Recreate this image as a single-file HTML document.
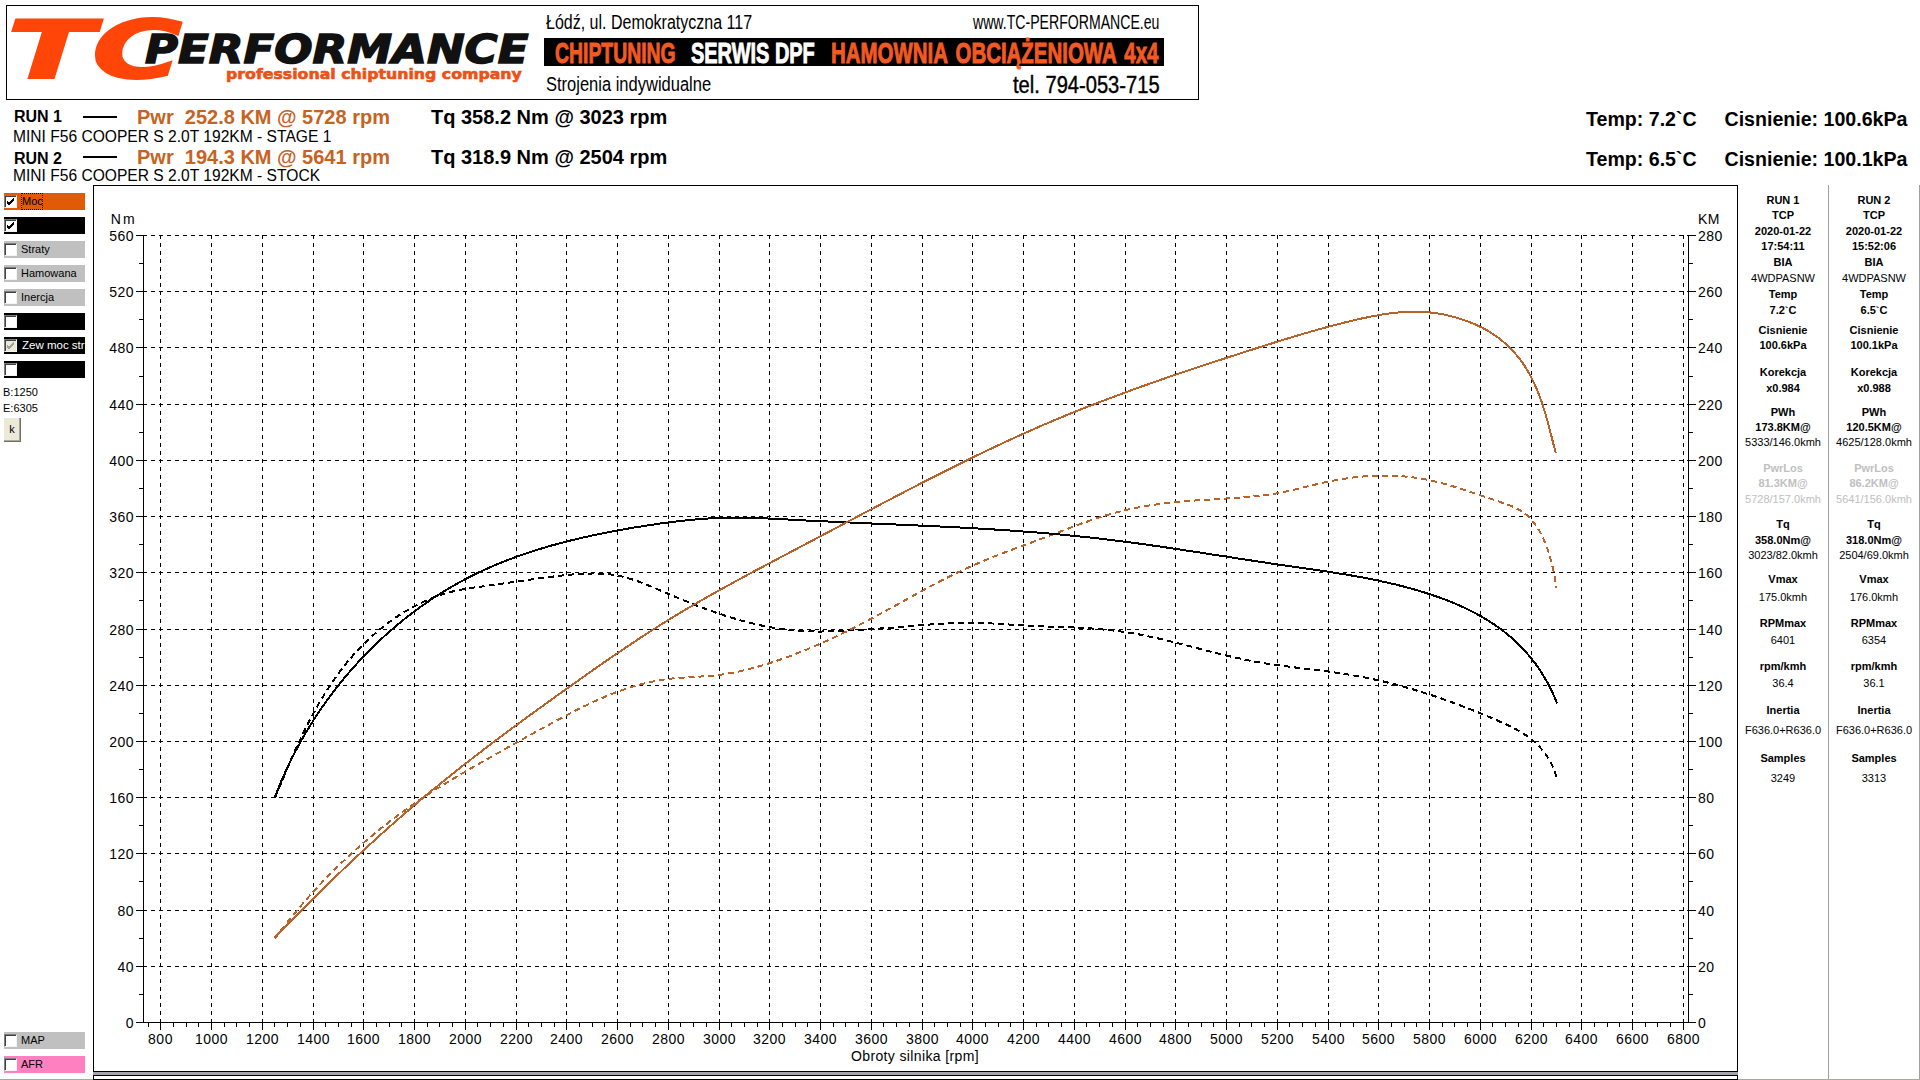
<!DOCTYPE html>
<html><head><meta charset="utf-8"><title>TC Performance - hamownia</title>
<style>
*{box-sizing:border-box}
html,body{margin:0;padding:0}
body{width:1920px;height:1080px;position:relative;overflow:hidden;background:#fff;font-family:"Liberation Sans",Arial,sans-serif;color:#000}
.abs{position:absolute;white-space:nowrap}
.bar{position:absolute;left:4px;width:81px;height:17px}
.cb{position:absolute;left:4px;width:13px;height:13px;border-top:1px solid #808080;border-left:1px solid #808080;border-bottom:1px solid #f4f3ee;border-right:1px solid #f4f3ee;box-shadow:inset 1px 1px 0 #404040}
.lbl{position:absolute;left:21px;height:13px;line-height:13px;font-size:11px;white-space:nowrap}
.rp{position:absolute;width:90px;text-align:center;font-size:11px;line-height:13px;white-space:nowrap}
.rp.b{font-weight:bold}
.rp.bg{font-weight:bold;color:#c0c0c0}
.rp.ng{color:#c0c0c0}
.hdr{position:absolute;white-space:nowrap;transform-origin:0 0}
</style></head><body>
<!-- header / logo -->
<div class="abs" style="left:6px;top:5px;width:1193px;height:95px;border:1px solid #000"></div>
<div class="hdr" style="left:7px;top:11px;font-family:'DejaVu Sans',sans-serif;font-size:80px;line-height:80px;font-weight:bold;font-style:oblique;color:#ff4608;transform:scaleX(1.586);-webkit-text-stroke:2px #ff4608">T</div>
<div class="hdr" style="left:92px;top:11px;font-family:'DejaVu Sans',sans-serif;font-size:80px;line-height:80px;font-weight:bold;font-style:oblique;color:#ff4608;transform:scaleX(1.536);-webkit-text-stroke:2px #ff4608">C</div>
<div class="hdr" style="left:145px;top:30px;font-family:'DejaVu Sans',sans-serif;font-size:38.5px;line-height:40px;font-weight:bold;font-style:oblique;color:#111;transform:scaleX(1.17);-webkit-text-stroke:1.5px #111">PERFORMANCE</div>
<div class="hdr" style="left:226px;top:66px;font-family:'DejaVu Sans',sans-serif;font-size:14px;line-height:16px;font-weight:bold;color:#f05014;transform:scaleX(1.126);-webkit-text-stroke:0.6px #f05014">professional chiptuning company</div>
<div class="hdr" style="left:546px;top:11px;font-size:20px;line-height:22px;transform:scaleX(0.80)">Łódź, ul. Demokratyczna 117</div>
<div class="hdr" style="left:973px;top:11px;font-size:20px;line-height:22px;transform:scaleX(0.705)">www.TC-PERFORMANCE.eu</div>
<div class="abs" style="left:544px;top:38px;width:620px;height:28px;background:#000"></div>
<div class="hdr" style="left:555px;top:37px;font-size:30px;line-height:32px;font-weight:bold;color:#f25a22;transform:scaleX(0.646);-webkit-text-stroke:1px #f25a22">CHIPTUNING</div>
<div class="hdr" style="left:691px;top:37px;font-size:30px;line-height:32px;font-weight:bold;color:#fff;transform:scaleX(0.665);-webkit-text-stroke:1px #fff">SERWIS DPF</div>
<div class="hdr" style="left:831px;top:37px;font-size:30px;line-height:32px;font-weight:bold;color:#f25a22;transform:scaleX(0.681);word-spacing:4px;-webkit-text-stroke:1px #f25a22">HAMOWNIA OBCIĄŻENIOWA 4x4</div>
<div class="hdr" style="left:546px;top:72.5px;font-size:20px;line-height:22px;transform:scaleX(0.825)">Strojenia indywidualne</div>
<div class="hdr" style="left:1013px;top:73px;font-size:23px;line-height:24px;transform:scaleX(0.875);font-weight:normal;-webkit-text-stroke:0.4px #000">tel. 794-053-715</div>

<!-- run info -->
<div class="abs" style="left:14px;top:108px;font-size:16px;line-height:18px;font-weight:bold">RUN 1</div>
<div class="abs" style="left:83px;top:116px;width:34px;height:2px;background:#000"></div>
<div class="abs" style="left:137px;top:106px;font-size:20px;line-height:22px;font-weight:bold;color:#c8621f">Pwr&nbsp; 252.8 KM @ 5728 rpm</div>
<div class="abs" style="left:431px;top:106px;font-size:20px;line-height:22px;font-weight:bold">Tq 358.2 Nm @ 3023 rpm</div>
<div class="abs" style="left:13px;top:128px;font-size:15.6px;line-height:18px">MINI F56 COOPER S 2.0T 192KM - STAGE 1</div>
<div class="abs" style="left:14px;top:150px;font-size:16px;line-height:18px;font-weight:bold">RUN 2</div>
<div class="abs" style="left:83px;top:156px;width:34px;height:2px;background:#000"></div>
<div class="abs" style="left:137px;top:145.7px;font-size:20px;line-height:22px;font-weight:bold;color:#c8621f">Pwr&nbsp; 194.3 KM @ 5641 rpm</div>
<div class="abs" style="left:431px;top:145.7px;font-size:20px;line-height:22px;font-weight:bold">Tq 318.9 Nm @ 2504 rpm</div>
<div class="abs" style="left:13px;top:167px;font-size:15.6px;line-height:18px">MINI F56 COOPER S 2.0T 192KM - STOCK</div>
<div class="abs" style="left:1586px;top:107.5px;font-size:19.6px;line-height:22px;font-weight:bold">Temp: 7.2`C</div>
<div class="abs" style="left:1724.5px;top:107.5px;font-size:19.6px;line-height:22px;font-weight:bold">Cisnienie: 100.6kPa</div>
<div class="abs" style="left:1586px;top:147.6px;font-size:19.6px;line-height:22px;font-weight:bold">Temp: 6.5`C</div>
<div class="abs" style="left:1724.5px;top:147.6px;font-size:19.6px;line-height:22px;font-weight:bold">Cisnienie: 100.1kPa</div>

<svg width="1920" height="1080" style="position:absolute;left:0;top:0" font-family="Liberation Sans, Arial, sans-serif">
<rect x="93.5" y="185.5" width="1644" height="886" fill="#fff" stroke="#000" stroke-width="1"/>
<g stroke="#000" stroke-width="1" shape-rendering="crispEdges" fill="none">
<path d="M143 966.5H1688" stroke-dasharray="4 4"/>
<path d="M143 910.5H1688" stroke-dasharray="4 4"/>
<path d="M143 853.5H1688" stroke-dasharray="4 4"/>
<path d="M143 797.5H1688" stroke-dasharray="4 4"/>
<path d="M143 741.5H1688" stroke-dasharray="4 4"/>
<path d="M143 685.5H1688" stroke-dasharray="4 4"/>
<path d="M143 629.5H1688" stroke-dasharray="4 4"/>
<path d="M143 572.5H1688" stroke-dasharray="4 4"/>
<path d="M143 516.5H1688" stroke-dasharray="4 4"/>
<path d="M143 460.5H1688" stroke-dasharray="4 4"/>
<path d="M143 404.5H1688" stroke-dasharray="4 4"/>
<path d="M143 347.5H1688" stroke-dasharray="4 4"/>
<path d="M143 291.5H1688" stroke-dasharray="4 4"/>
<path d="M143 235.5H1688" stroke-dasharray="4 4"/>
<path d="M160.5 235V1022" stroke-dasharray="4 4"/>
<path d="M211.5 235V1022" stroke-dasharray="4 4"/>
<path d="M262.5 235V1022" stroke-dasharray="4 4"/>
<path d="M313.5 235V1022" stroke-dasharray="4 4"/>
<path d="M363.5 235V1022" stroke-dasharray="4 4"/>
<path d="M414.5 235V1022" stroke-dasharray="4 4"/>
<path d="M465.5 235V1022" stroke-dasharray="4 4"/>
<path d="M516.5 235V1022" stroke-dasharray="4 4"/>
<path d="M566.5 235V1022" stroke-dasharray="4 4"/>
<path d="M617.5 235V1022" stroke-dasharray="4 4"/>
<path d="M668.5 235V1022" stroke-dasharray="4 4"/>
<path d="M719.5 235V1022" stroke-dasharray="4 4"/>
<path d="M769.5 235V1022" stroke-dasharray="4 4"/>
<path d="M820.5 235V1022" stroke-dasharray="4 4"/>
<path d="M871.5 235V1022" stroke-dasharray="4 4"/>
<path d="M922.5 235V1022" stroke-dasharray="4 4"/>
<path d="M972.5 235V1022" stroke-dasharray="4 4"/>
<path d="M1023.5 235V1022" stroke-dasharray="4 4"/>
<path d="M1074.5 235V1022" stroke-dasharray="4 4"/>
<path d="M1125.5 235V1022" stroke-dasharray="4 4"/>
<path d="M1175.5 235V1022" stroke-dasharray="4 4"/>
<path d="M1226.5 235V1022" stroke-dasharray="4 4"/>
<path d="M1277.5 235V1022" stroke-dasharray="4 4"/>
<path d="M1328.5 235V1022" stroke-dasharray="4 4"/>
<path d="M1378.5 235V1022" stroke-dasharray="4 4"/>
<path d="M1429.5 235V1022" stroke-dasharray="4 4"/>
<path d="M1480.5 235V1022" stroke-dasharray="4 4"/>
<path d="M1531.5 235V1022" stroke-dasharray="4 4"/>
<path d="M1581.5 235V1022" stroke-dasharray="4 4"/>
<path d="M1632.5 235V1022" stroke-dasharray="4 4"/>
<path d="M1683.5 235V1022" stroke-dasharray="4 4"/>
<path d="M143.5 235V1023"/>
<path d="M1688.5 235V1023"/>
<path d="M136 1022.5H1696"/>
<path d="M136 1022.5H143"/>
<path d="M1689 1022.5H1696"/>
<path d="M139 994.5H143"/>
<path d="M1689 994.5H1693"/>
<path d="M136 966.5H143"/>
<path d="M1689 966.5H1696"/>
<path d="M139 938.5H143"/>
<path d="M1689 938.5H1693"/>
<path d="M136 910.5H143"/>
<path d="M1689 910.5H1696"/>
<path d="M139 881.5H143"/>
<path d="M1689 881.5H1693"/>
<path d="M136 853.5H143"/>
<path d="M1689 853.5H1696"/>
<path d="M139 825.5H143"/>
<path d="M1689 825.5H1693"/>
<path d="M136 797.5H143"/>
<path d="M1689 797.5H1696"/>
<path d="M139 769.5H143"/>
<path d="M1689 769.5H1693"/>
<path d="M136 741.5H143"/>
<path d="M1689 741.5H1696"/>
<path d="M139 713.5H143"/>
<path d="M1689 713.5H1693"/>
<path d="M136 685.5H143"/>
<path d="M1689 685.5H1696"/>
<path d="M139 657.5H143"/>
<path d="M1689 657.5H1693"/>
<path d="M136 629.5H143"/>
<path d="M1689 629.5H1696"/>
<path d="M139 600.5H143"/>
<path d="M1689 600.5H1693"/>
<path d="M136 572.5H143"/>
<path d="M1689 572.5H1696"/>
<path d="M139 544.5H143"/>
<path d="M1689 544.5H1693"/>
<path d="M136 516.5H143"/>
<path d="M1689 516.5H1696"/>
<path d="M139 488.5H143"/>
<path d="M1689 488.5H1693"/>
<path d="M136 460.5H143"/>
<path d="M1689 460.5H1696"/>
<path d="M139 432.5H143"/>
<path d="M1689 432.5H1693"/>
<path d="M136 404.5H143"/>
<path d="M1689 404.5H1696"/>
<path d="M139 376.5H143"/>
<path d="M1689 376.5H1693"/>
<path d="M136 347.5H143"/>
<path d="M1689 347.5H1696"/>
<path d="M139 319.5H143"/>
<path d="M1689 319.5H1693"/>
<path d="M136 291.5H143"/>
<path d="M1689 291.5H1696"/>
<path d="M139 263.5H143"/>
<path d="M1689 263.5H1693"/>
<path d="M136 235.5H143"/>
<path d="M1689 235.5H1696"/>
<path d="M148.5 1023V1027"/>
<path d="M160.5 1023V1030"/>
<path d="M173.5 1023V1027"/>
<path d="M186.5 1023V1027"/>
<path d="M198.5 1023V1027"/>
<path d="M211.5 1023V1030"/>
<path d="M224.5 1023V1027"/>
<path d="M236.5 1023V1027"/>
<path d="M249.5 1023V1027"/>
<path d="M262.5 1023V1030"/>
<path d="M274.5 1023V1027"/>
<path d="M287.5 1023V1027"/>
<path d="M300.5 1023V1027"/>
<path d="M313.5 1023V1030"/>
<path d="M325.5 1023V1027"/>
<path d="M338.5 1023V1027"/>
<path d="M351.5 1023V1027"/>
<path d="M363.5 1023V1030"/>
<path d="M376.5 1023V1027"/>
<path d="M389.5 1023V1027"/>
<path d="M401.5 1023V1027"/>
<path d="M414.5 1023V1030"/>
<path d="M427.5 1023V1027"/>
<path d="M439.5 1023V1027"/>
<path d="M452.5 1023V1027"/>
<path d="M465.5 1023V1030"/>
<path d="M477.5 1023V1027"/>
<path d="M490.5 1023V1027"/>
<path d="M503.5 1023V1027"/>
<path d="M516.5 1023V1030"/>
<path d="M528.5 1023V1027"/>
<path d="M541.5 1023V1027"/>
<path d="M554.5 1023V1027"/>
<path d="M566.5 1023V1030"/>
<path d="M579.5 1023V1027"/>
<path d="M592.5 1023V1027"/>
<path d="M604.5 1023V1027"/>
<path d="M617.5 1023V1030"/>
<path d="M630.5 1023V1027"/>
<path d="M642.5 1023V1027"/>
<path d="M655.5 1023V1027"/>
<path d="M668.5 1023V1030"/>
<path d="M680.5 1023V1027"/>
<path d="M693.5 1023V1027"/>
<path d="M706.5 1023V1027"/>
<path d="M719.5 1023V1030"/>
<path d="M731.5 1023V1027"/>
<path d="M744.5 1023V1027"/>
<path d="M757.5 1023V1027"/>
<path d="M769.5 1023V1030"/>
<path d="M782.5 1023V1027"/>
<path d="M795.5 1023V1027"/>
<path d="M807.5 1023V1027"/>
<path d="M820.5 1023V1030"/>
<path d="M833.5 1023V1027"/>
<path d="M845.5 1023V1027"/>
<path d="M858.5 1023V1027"/>
<path d="M871.5 1023V1030"/>
<path d="M883.5 1023V1027"/>
<path d="M896.5 1023V1027"/>
<path d="M909.5 1023V1027"/>
<path d="M922.5 1023V1030"/>
<path d="M934.5 1023V1027"/>
<path d="M947.5 1023V1027"/>
<path d="M960.5 1023V1027"/>
<path d="M972.5 1023V1030"/>
<path d="M985.5 1023V1027"/>
<path d="M998.5 1023V1027"/>
<path d="M1010.5 1023V1027"/>
<path d="M1023.5 1023V1030"/>
<path d="M1036.5 1023V1027"/>
<path d="M1048.5 1023V1027"/>
<path d="M1061.5 1023V1027"/>
<path d="M1074.5 1023V1030"/>
<path d="M1086.5 1023V1027"/>
<path d="M1099.5 1023V1027"/>
<path d="M1112.5 1023V1027"/>
<path d="M1125.5 1023V1030"/>
<path d="M1137.5 1023V1027"/>
<path d="M1150.5 1023V1027"/>
<path d="M1163.5 1023V1027"/>
<path d="M1175.5 1023V1030"/>
<path d="M1188.5 1023V1027"/>
<path d="M1201.5 1023V1027"/>
<path d="M1213.5 1023V1027"/>
<path d="M1226.5 1023V1030"/>
<path d="M1239.5 1023V1027"/>
<path d="M1251.5 1023V1027"/>
<path d="M1264.5 1023V1027"/>
<path d="M1277.5 1023V1030"/>
<path d="M1289.5 1023V1027"/>
<path d="M1302.5 1023V1027"/>
<path d="M1315.5 1023V1027"/>
<path d="M1328.5 1023V1030"/>
<path d="M1340.5 1023V1027"/>
<path d="M1353.5 1023V1027"/>
<path d="M1366.5 1023V1027"/>
<path d="M1378.5 1023V1030"/>
<path d="M1391.5 1023V1027"/>
<path d="M1404.5 1023V1027"/>
<path d="M1416.5 1023V1027"/>
<path d="M1429.5 1023V1030"/>
<path d="M1442.5 1023V1027"/>
<path d="M1454.5 1023V1027"/>
<path d="M1467.5 1023V1027"/>
<path d="M1480.5 1023V1030"/>
<path d="M1492.5 1023V1027"/>
<path d="M1505.5 1023V1027"/>
<path d="M1518.5 1023V1027"/>
<path d="M1531.5 1023V1030"/>
<path d="M1543.5 1023V1027"/>
<path d="M1556.5 1023V1027"/>
<path d="M1569.5 1023V1027"/>
<path d="M1581.5 1023V1030"/>
<path d="M1594.5 1023V1027"/>
<path d="M1607.5 1023V1027"/>
<path d="M1619.5 1023V1027"/>
<path d="M1632.5 1023V1030"/>
<path d="M1645.5 1023V1027"/>
<path d="M1657.5 1023V1027"/>
<path d="M1670.5 1023V1027"/>
<path d="M1683.5 1023V1030"/>
</g>
<g font-size="14" fill="#000" letter-spacing="0.5">
<text x="134" y="1027.5" text-anchor="end">0</text>
<text x="1698" y="1027.5">0</text>
<text x="134" y="971.5" text-anchor="end">40</text>
<text x="1698" y="971.5">20</text>
<text x="134" y="915.5" text-anchor="end">80</text>
<text x="1698" y="915.5">40</text>
<text x="134" y="858.5" text-anchor="end">120</text>
<text x="1698" y="858.5">60</text>
<text x="134" y="802.5" text-anchor="end">160</text>
<text x="1698" y="802.5">80</text>
<text x="134" y="746.5" text-anchor="end">200</text>
<text x="1698" y="746.5">100</text>
<text x="134" y="690.5" text-anchor="end">240</text>
<text x="1698" y="690.5">120</text>
<text x="134" y="634.5" text-anchor="end">280</text>
<text x="1698" y="634.5">140</text>
<text x="134" y="577.5" text-anchor="end">320</text>
<text x="1698" y="577.5">160</text>
<text x="134" y="521.5" text-anchor="end">360</text>
<text x="1698" y="521.5">180</text>
<text x="134" y="465.5" text-anchor="end">400</text>
<text x="1698" y="465.5">200</text>
<text x="134" y="409.5" text-anchor="end">440</text>
<text x="1698" y="409.5">220</text>
<text x="134" y="352.5" text-anchor="end">480</text>
<text x="1698" y="352.5">240</text>
<text x="134" y="296.5" text-anchor="end">520</text>
<text x="1698" y="296.5">260</text>
<text x="134" y="240.5" text-anchor="end">560</text>
<text x="1698" y="240.5">280</text>
<text x="160.5" y="1043.5" text-anchor="middle">800</text>
<text x="211.5" y="1043.5" text-anchor="middle">1000</text>
<text x="262.5" y="1043.5" text-anchor="middle">1200</text>
<text x="313.5" y="1043.5" text-anchor="middle">1400</text>
<text x="363.5" y="1043.5" text-anchor="middle">1600</text>
<text x="414.5" y="1043.5" text-anchor="middle">1800</text>
<text x="465.5" y="1043.5" text-anchor="middle">2000</text>
<text x="516.5" y="1043.5" text-anchor="middle">2200</text>
<text x="566.5" y="1043.5" text-anchor="middle">2400</text>
<text x="617.5" y="1043.5" text-anchor="middle">2600</text>
<text x="668.5" y="1043.5" text-anchor="middle">2800</text>
<text x="719.5" y="1043.5" text-anchor="middle">3000</text>
<text x="769.5" y="1043.5" text-anchor="middle">3200</text>
<text x="820.5" y="1043.5" text-anchor="middle">3400</text>
<text x="871.5" y="1043.5" text-anchor="middle">3600</text>
<text x="922.5" y="1043.5" text-anchor="middle">3800</text>
<text x="972.5" y="1043.5" text-anchor="middle">4000</text>
<text x="1023.5" y="1043.5" text-anchor="middle">4200</text>
<text x="1074.5" y="1043.5" text-anchor="middle">4400</text>
<text x="1125.5" y="1043.5" text-anchor="middle">4600</text>
<text x="1175.5" y="1043.5" text-anchor="middle">4800</text>
<text x="1226.5" y="1043.5" text-anchor="middle">5000</text>
<text x="1277.5" y="1043.5" text-anchor="middle">5200</text>
<text x="1328.5" y="1043.5" text-anchor="middle">5400</text>
<text x="1378.5" y="1043.5" text-anchor="middle">5600</text>
<text x="1429.5" y="1043.5" text-anchor="middle">5800</text>
<text x="1480.5" y="1043.5" text-anchor="middle">6000</text>
<text x="1531.5" y="1043.5" text-anchor="middle">6200</text>
<text x="1581.5" y="1043.5" text-anchor="middle">6400</text>
<text x="1632.5" y="1043.5" text-anchor="middle">6600</text>
<text x="1683.5" y="1043.5" text-anchor="middle">6800</text>
<text x="137" y="224" text-anchor="end" letter-spacing="2.2">Nm</text>
<text x="1698" y="224">KM</text>
<text x="915" y="1061" text-anchor="middle" letter-spacing="0.37">Obroty silnika [rpm]</text>
</g>
<g fill="none" stroke-width="2" stroke-linejoin="round" shape-rendering="crispEdges">
<path d="M274.9 798.0 L275.7 796.2 L276.4 794.4 L277.2 792.5 L277.9 790.7 L278.7 788.8 L279.5 787.0 L280.2 785.2 L281.0 783.3 L281.8 781.5 L282.5 779.7 L283.3 777.8 L284.1 776.0 L284.8 774.1 L285.6 772.3 L286.4 770.5 L287.2 768.6 L288.0 766.8 L288.8 764.9 L289.6 763.1 L290.4 761.3 L291.2 759.4 L292.0 757.6 L292.8 755.8 L293.6 753.9 L294.4 752.1 L295.2 750.3 L296.0 748.5 L296.9 746.6 L297.7 744.8 L298.6 743.0 L299.4 741.2 L300.3 739.4 L301.1 737.6 L302.0 735.8 L302.8 734.0 L303.7 732.2 L304.6 730.4 L305.5 728.6 L306.4 726.8 L307.3 725.0 L308.2 723.2 L309.1 721.4 L310.0 719.7 L311.0 717.9 L311.9 716.1 L312.8 714.4 L313.8 712.6 L314.7 710.9 L315.7 709.1 L316.7 707.4 L317.7 705.7 L318.7 703.9 L319.7 702.2 L320.7 700.5 L321.7 698.8 L322.7 697.1 L323.8 695.4 L324.8 693.7 L325.9 692.0 L326.9 690.3 L328.0 688.6 L329.1 687.0 L330.2 685.3 L331.3 683.6 L332.4 682.0 L333.6 680.4 L334.7 678.7 L335.9 677.1 L337.0 675.5 L338.2 673.9 L339.4 672.3 L340.6 670.7 L341.8 669.1 L343.0 667.5 L344.2 665.9 L345.5 664.4 L346.7 662.8 L348.0 661.3 L349.3 659.7 L350.6 658.2 L351.9 656.7 L353.2 655.2 L354.6 653.7 L355.9 652.2 L357.3 650.7 L358.7 649.3 L360.0 647.8 L361.4 646.4 L362.9 644.9 L364.3 643.5 L365.7 642.1 L367.2 640.7 L368.6 639.3 L370.1 638.0 L371.6 636.6 L373.1 635.3 L374.6 633.9 L376.1 632.6 L377.6 631.3 L379.2 630.0 L380.7 628.7 L382.3 627.5 L383.9 626.2 L385.5 625.0 L387.1 623.7 L388.7 622.5 L390.3 621.4 L391.9 620.2 L393.5 619.0 L395.2 617.9 L396.8 616.8 L398.5 615.7 L400.2 614.6 L401.9 613.5 L403.6 612.4 L405.3 611.4 L407.0 610.4 L408.7 609.4 L410.4 608.4 L412.2 607.4 L413.9 606.5 L415.7 605.6 L417.5 604.7 L419.2 603.8 L421.0 602.9 L422.8 602.1 L424.6 601.2 L426.4 600.4 L428.2 599.7 L430.1 598.9 L431.9 598.2 L433.7 597.4 L435.6 596.7 L437.4 596.1 L439.3 595.4 L441.2 594.8 L443.1 594.2 L444.9 593.6 L446.8 593.0 L448.7 592.5 L450.6 592.0 L452.5 591.5 L454.5 591.0 L456.4 590.6 L458.3 590.2 L460.2 589.8 L462.2 589.4 L464.1 589.1 L466.1 588.7 L468.0 588.4 L470.0 588.1 L472.0 587.8 L473.9 587.5 L475.9 587.3 L477.9 587.0 L479.9 586.7 L481.9 586.5 L483.9 586.2 L485.9 585.9 L487.9 585.7 L489.9 585.4 L491.9 585.1 L493.9 584.8 L495.9 584.5 L497.9 584.3 L499.9 584.0 L501.9 583.7 L504.0 583.4 L506.0 583.1 L508.0 582.8 L510.0 582.5 L512.1 582.2 L514.1 581.9 L516.1 581.6 L518.1 581.3 L520.2 581.0 L522.2 580.7 L524.2 580.5 L526.3 580.2 L528.3 579.9 L530.3 579.6 L532.3 579.3 L534.4 579.0 L536.4 578.7 L538.4 578.5 L540.4 578.2 L542.5 577.9 L544.5 577.7 L546.5 577.4 L548.5 577.1 L550.5 576.9 L552.5 576.6 L554.5 576.4 L556.5 576.2 L558.5 575.9 L560.5 575.7 L562.5 575.5 L564.5 575.3 L566.5 575.1 L568.5 574.9 L570.5 574.7 L572.4 574.5 L574.4 574.3 L576.4 574.2 L578.3 574.0 L580.3 573.9 L582.3 573.8 L584.2 573.7 L586.2 573.6 L588.1 573.5 L590.0 573.5 L592.0 573.5 L593.9 573.4 L595.8 573.5 L597.8 573.5 L599.7 573.6 L601.6 573.7 L603.5 573.8 L605.5 573.9 L607.4 574.1 L609.3 574.3 L611.2 574.6 L613.1 574.8 L615.0 575.1 L616.9 575.5 L618.8 575.9 L620.7 576.3 L622.6 576.7 L624.5 577.2 L626.4 577.7 L628.3 578.3 L630.2 578.8 L632.1 579.4 L634.0 580.0 L635.9 580.7 L637.8 581.3 L639.6 582.0 L641.5 582.7 L643.4 583.4 L645.3 584.2 L647.2 584.9 L649.1 585.7 L650.9 586.5 L652.8 587.2 L654.7 588.0 L656.6 588.8 L658.5 589.6 L660.3 590.4 L662.2 591.3 L664.1 592.1 L666.0 592.9 L667.9 593.7 L669.7 594.5 L671.6 595.3 L673.5 596.1 L675.4 596.9 L677.3 597.7 L679.2 598.5 L681.0 599.2 L682.9 600.0 L684.8 600.8 L686.7 601.5 L688.6 602.3 L690.5 603.1 L692.3 603.8 L694.2 604.5 L696.1 605.3 L698.0 606.0 L699.9 606.7 L701.8 607.5 L703.7 608.2 L705.6 608.9 L707.5 609.6 L709.4 610.2 L711.3 610.9 L713.1 611.6 L715.0 612.3 L716.9 612.9 L718.8 613.6 L720.7 614.2 L722.6 614.8 L724.5 615.5 L726.4 616.1 L728.4 616.7 L730.3 617.3 L732.2 617.9 L734.1 618.4 L736.0 619.0 L737.9 619.6 L739.8 620.1 L741.7 620.6 L743.6 621.2 L745.6 621.7 L747.5 622.2 L749.4 622.7 L751.3 623.2 L753.2 623.6 L755.2 624.1 L757.1 624.5 L759.0 625.0 L760.9 625.4 L762.9 625.8 L764.8 626.2 L766.7 626.6 L768.7 626.9 L770.6 627.3 L772.6 627.6 L774.5 628.0 L776.4 628.3 L778.4 628.6 L780.3 628.9 L782.3 629.1 L784.2 629.4 L786.2 629.6 L788.2 629.9 L790.1 630.1 L792.1 630.3 L794.0 630.5 L796.0 630.6 L798.0 630.8 L799.9 630.9 L801.9 631.0 L803.9 631.1 L805.9 631.2 L807.8 631.3 L809.8 631.4 L811.8 631.4 L813.8 631.4 L815.8 631.5 L817.8 631.5 L819.8 631.5 L821.7 631.5 L823.7 631.4 L825.7 631.4 L827.7 631.4 L829.7 631.3 L831.7 631.2 L833.7 631.2 L835.7 631.1 L837.7 631.0 L839.7 630.9 L841.7 630.8 L843.8 630.7 L845.8 630.6 L847.8 630.5 L849.8 630.4 L851.8 630.3 L853.8 630.2 L855.8 630.1 L857.8 630.0 L859.8 629.8 L861.9 629.7 L863.9 629.6 L865.9 629.5 L867.9 629.3 L869.9 629.2 L871.9 629.1 L874.0 628.9 L876.0 628.8 L878.0 628.7 L880.0 628.5 L882.0 628.4 L884.0 628.2 L886.1 628.1 L888.1 627.9 L890.1 627.8 L892.1 627.6 L894.1 627.5 L896.1 627.3 L898.1 627.1 L900.2 627.0 L902.2 626.8 L904.2 626.6 L906.2 626.5 L908.2 626.3 L910.2 626.1 L912.2 626.0 L914.2 625.8 L916.3 625.6 L918.3 625.5 L920.3 625.3 L922.3 625.1 L924.3 625.0 L926.3 624.8 L928.3 624.7 L930.3 624.5 L932.3 624.4 L934.3 624.2 L936.3 624.1 L938.3 623.9 L940.3 623.8 L942.3 623.7 L944.3 623.6 L946.3 623.5 L948.3 623.4 L950.4 623.3 L952.4 623.2 L954.4 623.1 L956.4 623.0 L958.4 623.0 L960.4 622.9 L962.4 622.9 L964.4 622.8 L966.4 622.8 L968.4 622.8 L970.4 622.8 L972.3 622.8 L974.3 622.8 L976.3 622.9 L978.3 622.9 L980.3 623.0 L982.3 623.0 L984.3 623.1 L986.3 623.2 L988.3 623.3 L990.3 623.4 L992.3 623.5 L994.3 623.6 L996.3 623.7 L998.3 623.8 L1000.3 623.9 L1002.3 624.1 L1004.3 624.2 L1006.3 624.3 L1008.2 624.4 L1010.2 624.6 L1012.2 624.7 L1014.2 624.8 L1016.2 624.9 L1018.2 625.1 L1020.2 625.2 L1022.2 625.3 L1024.2 625.4 L1026.1 625.5 L1028.1 625.6 L1030.1 625.7 L1032.1 625.8 L1034.1 625.9 L1036.1 626.0 L1038.1 626.1 L1040.0 626.2 L1042.0 626.2 L1044.0 626.3 L1046.0 626.4 L1048.0 626.5 L1050.0 626.5 L1052.0 626.6 L1053.9 626.7 L1055.9 626.8 L1057.9 626.8 L1059.9 626.9 L1061.9 627.0 L1063.8 627.1 L1065.8 627.2 L1067.8 627.2 L1069.8 627.3 L1071.8 627.4 L1073.7 627.5 L1075.7 627.6 L1077.7 627.7 L1079.7 627.8 L1081.7 627.9 L1083.6 628.0 L1085.6 628.1 L1087.6 628.3 L1089.6 628.4 L1091.6 628.5 L1093.5 628.7 L1095.5 628.8 L1097.5 629.0 L1099.5 629.1 L1101.4 629.3 L1103.4 629.5 L1105.4 629.7 L1107.4 629.9 L1109.3 630.1 L1111.3 630.3 L1113.3 630.5 L1115.3 630.7 L1117.2 631.0 L1119.2 631.2 L1121.2 631.5 L1123.2 631.8 L1125.1 632.1 L1127.1 632.4 L1129.1 632.7 L1131.0 633.0 L1133.0 633.4 L1135.0 633.7 L1137.0 634.1 L1138.9 634.4 L1140.9 634.8 L1142.9 635.2 L1144.8 635.6 L1146.8 636.0 L1148.8 636.4 L1150.7 636.8 L1152.7 637.2 L1154.7 637.7 L1156.7 638.1 L1158.6 638.5 L1160.6 639.0 L1162.6 639.5 L1164.5 639.9 L1166.5 640.4 L1168.5 640.9 L1170.4 641.3 L1172.4 641.8 L1174.4 642.3 L1176.3 642.8 L1178.3 643.3 L1180.3 643.8 L1182.2 644.3 L1184.2 644.8 L1186.2 645.3 L1188.1 645.8 L1190.1 646.3 L1192.1 646.8 L1194.0 647.3 L1196.0 647.8 L1198.0 648.4 L1199.9 648.9 L1201.9 649.4 L1203.9 649.9 L1205.8 650.4 L1207.8 650.9 L1209.8 651.4 L1211.7 651.9 L1213.7 652.4 L1215.6 652.9 L1217.6 653.4 L1219.6 653.8 L1221.5 654.3 L1223.5 654.8 L1225.5 655.3 L1227.4 655.7 L1229.4 656.2 L1231.4 656.7 L1233.3 657.1 L1235.3 657.6 L1237.2 658.0 L1239.2 658.4 L1241.2 658.8 L1243.1 659.3 L1245.1 659.7 L1247.1 660.1 L1249.0 660.5 L1251.0 660.8 L1252.9 661.2 L1254.9 661.6 L1256.9 661.9 L1258.8 662.3 L1260.8 662.6 L1262.7 662.9 L1264.7 663.2 L1266.7 663.6 L1268.6 663.9 L1270.6 664.2 L1272.5 664.4 L1274.5 664.7 L1276.5 665.0 L1278.4 665.3 L1280.4 665.6 L1282.3 665.8 L1284.3 666.1 L1286.3 666.3 L1288.2 666.6 L1290.2 666.8 L1292.1 667.1 L1294.1 667.3 L1296.1 667.6 L1298.0 667.8 L1300.0 668.0 L1301.9 668.3 L1303.9 668.5 L1305.9 668.8 L1307.8 669.0 L1309.8 669.2 L1311.7 669.5 L1313.7 669.7 L1315.7 669.9 L1317.6 670.2 L1319.6 670.4 L1321.5 670.7 L1323.5 670.9 L1325.5 671.2 L1327.4 671.4 L1329.4 671.7 L1331.3 672.0 L1333.3 672.2 L1335.3 672.5 L1337.2 672.8 L1339.2 673.1 L1341.1 673.3 L1343.1 673.6 L1345.1 673.9 L1347.0 674.3 L1349.0 674.6 L1350.9 674.9 L1352.9 675.2 L1354.8 675.6 L1356.8 675.9 L1358.8 676.3 L1360.7 676.7 L1362.7 677.0 L1364.6 677.4 L1366.6 677.8 L1368.6 678.2 L1370.5 678.6 L1372.5 679.0 L1374.4 679.5 L1376.4 679.9 L1378.3 680.3 L1380.3 680.8 L1382.2 681.2 L1384.2 681.7 L1386.2 682.2 L1388.1 682.7 L1390.1 683.1 L1392.0 683.6 L1394.0 684.1 L1395.9 684.6 L1397.8 685.2 L1399.8 685.7 L1401.7 686.2 L1403.7 686.7 L1405.6 687.3 L1407.6 687.8 L1409.5 688.4 L1411.4 689.0 L1413.4 689.5 L1415.3 690.1 L1417.2 690.7 L1419.2 691.3 L1421.1 691.9 L1423.0 692.5 L1425.0 693.1 L1426.9 693.7 L1428.8 694.3 L1430.7 694.9 L1432.6 695.6 L1434.6 696.2 L1436.5 696.8 L1438.4 697.5 L1440.3 698.1 L1442.2 698.8 L1444.1 699.5 L1446.0 700.1 L1447.9 700.8 L1449.8 701.5 L1451.7 702.2 L1453.6 702.9 L1455.5 703.6 L1457.4 704.3 L1459.3 705.0 L1461.1 705.7 L1463.0 706.4 L1464.9 707.1 L1466.8 707.8 L1468.6 708.6 L1470.5 709.3 L1472.4 710.0 L1474.2 710.8 L1476.1 711.5 L1478.0 712.3 L1479.8 713.0 L1481.7 713.8 L1483.5 714.6 L1485.3 715.3 L1487.2 716.1 L1489.0 716.9 L1490.8 717.7 L1492.7 718.4 L1494.5 719.2 L1496.3 720.0 L1498.1 720.8 L1499.9 721.6 L1501.8 722.4 L1503.6 723.2 L1505.3 724.0 L1507.1 724.9 L1508.9 725.7 L1510.7 726.6 L1512.4 727.5 L1514.1 728.4 L1515.9 729.3 L1517.6 730.2 L1519.3 731.2 L1520.9 732.1 L1522.6 733.1 L1524.2 734.2 L1525.8 735.2 L1527.4 736.3 L1529.0 737.5 L1530.5 738.6 L1532.0 739.8 L1533.5 741.1 L1535.0 742.3 L1536.4 743.7 L1537.8 745.0 L1539.2 746.4 L1540.5 747.9 L1541.8 749.4 L1543.1 750.9 L1544.3 752.5 L1545.5 754.1 L1546.7 755.8 L1547.8 757.5 L1548.8 759.2 L1549.9 761.0 L1550.9 762.9 L1551.8 764.7 L1552.7 766.7 L1553.6 768.6 L1554.4 770.6 L1555.1 772.7 L1555.8 774.8 L1556.5 776.9 L1557.1 779.1" stroke="#000" stroke-dasharray="6 4"/>
<path d="M274.9 938.5 L276.1 936.9 L277.3 935.4 L278.5 933.8 L279.7 932.2 L280.9 930.6 L282.1 929.0 L283.3 927.4 L284.5 925.9 L285.7 924.3 L287.0 922.7 L288.2 921.2 L289.4 919.6 L290.7 918.1 L292.0 916.5 L293.2 915.0 L294.5 913.4 L295.8 911.9 L297.0 910.4 L298.3 908.8 L299.6 907.3 L300.9 905.8 L302.2 904.3 L303.5 902.7 L304.8 901.2 L306.2 899.7 L307.5 898.2 L308.8 896.7 L310.2 895.2 L311.5 893.8 L312.8 892.3 L314.2 890.8 L315.6 889.3 L316.9 887.8 L318.3 886.4 L319.7 884.9 L321.0 883.5 L322.4 882.0 L323.8 880.6 L325.2 879.1 L326.6 877.7 L328.0 876.2 L329.4 874.8 L330.8 873.4 L332.3 872.0 L333.7 870.5 L335.1 869.1 L336.5 867.7 L338.0 866.3 L339.4 864.9 L340.9 863.5 L342.3 862.1 L343.8 860.8 L345.3 859.4 L346.7 858.0 L348.2 856.6 L349.7 855.3 L351.2 853.9 L352.6 852.6 L354.1 851.2 L355.6 849.9 L357.1 848.5 L358.6 847.2 L360.1 845.9 L361.6 844.5 L363.2 843.2 L364.7 841.9 L366.2 840.6 L367.7 839.3 L369.3 838.0 L370.8 836.7 L372.3 835.4 L373.9 834.2 L375.4 832.9 L377.0 831.6 L378.5 830.3 L380.1 829.1 L381.7 827.8 L383.2 826.6 L384.8 825.3 L386.4 824.1 L388.0 822.9 L389.6 821.7 L391.1 820.4 L392.7 819.2 L394.3 818.0 L395.9 816.8 L397.5 815.6 L399.1 814.4 L400.7 813.2 L402.3 812.1 L404.0 810.9 L405.6 809.7 L407.2 808.6 L408.8 807.4 L410.5 806.3 L412.1 805.1 L413.7 804.0 L415.4 802.8 L417.0 801.7 L418.6 800.6 L420.3 799.5 L421.9 798.4 L423.6 797.3 L425.3 796.2 L426.9 795.1 L428.6 794.0 L430.2 793.0 L431.9 791.9 L433.6 790.8 L435.2 789.8 L436.9 788.7 L438.6 787.7 L440.3 786.6 L442.0 785.6 L443.6 784.5 L445.3 783.5 L447.0 782.5 L448.7 781.5 L450.4 780.4 L452.1 779.4 L453.8 778.4 L455.5 777.4 L457.2 776.4 L458.9 775.4 L460.6 774.4 L462.4 773.4 L464.1 772.4 L465.8 771.4 L467.5 770.4 L469.2 769.4 L470.9 768.4 L472.7 767.4 L474.4 766.4 L476.1 765.4 L477.9 764.4 L479.6 763.4 L481.3 762.4 L483.1 761.5 L484.8 760.5 L486.5 759.5 L488.3 758.5 L490.0 757.5 L491.8 756.5 L493.5 755.5 L495.3 754.5 L497.0 753.5 L498.8 752.5 L500.5 751.6 L502.3 750.6 L504.0 749.6 L505.8 748.6 L507.5 747.6 L509.3 746.6 L511.0 745.6 L512.8 744.7 L514.6 743.7 L516.3 742.7 L518.1 741.7 L519.9 740.7 L521.6 739.7 L523.4 738.8 L525.2 737.8 L526.9 736.8 L528.7 735.8 L530.5 734.8 L532.2 733.8 L534.0 732.9 L535.8 731.9 L537.6 730.9 L539.3 729.9 L541.1 729.0 L542.9 728.0 L544.7 727.0 L546.5 726.0 L548.2 725.1 L550.0 724.1 L551.8 723.1 L553.6 722.1 L555.4 721.2 L557.1 720.2 L558.9 719.3 L560.7 718.3 L562.5 717.4 L564.3 716.4 L566.1 715.5 L567.9 714.5 L569.7 713.6 L571.5 712.7 L573.3 711.7 L575.0 710.8 L576.8 709.9 L578.6 709.0 L580.5 708.1 L582.3 707.2 L584.1 706.3 L585.9 705.5 L587.7 704.6 L589.5 703.7 L591.3 702.9 L593.1 702.0 L594.9 701.2 L596.8 700.4 L598.6 699.6 L600.4 698.8 L602.2 698.0 L604.1 697.2 L605.9 696.4 L607.7 695.6 L609.6 694.9 L611.4 694.2 L613.3 693.4 L615.1 692.7 L617.0 692.0 L618.8 691.3 L620.7 690.7 L622.5 690.0 L624.4 689.3 L626.2 688.7 L628.1 688.1 L630.0 687.5 L631.9 686.9 L633.7 686.3 L635.6 685.8 L637.5 685.2 L639.4 684.7 L641.3 684.2 L643.2 683.7 L645.1 683.2 L647.0 682.7 L648.9 682.3 L650.8 681.9 L652.7 681.5 L654.6 681.1 L656.5 680.7 L658.5 680.4 L660.4 680.0 L662.3 679.7 L664.3 679.4 L666.2 679.1 L668.2 678.9 L670.1 678.7 L672.1 678.5 L674.0 678.3 L676.0 678.1 L678.0 677.9 L679.9 677.8 L681.9 677.6 L683.9 677.5 L685.9 677.4 L687.8 677.3 L689.8 677.1 L691.8 677.0 L693.8 676.9 L695.8 676.8 L697.8 676.7 L699.8 676.6 L701.8 676.4 L703.8 676.3 L705.8 676.2 L707.8 676.0 L709.8 675.9 L711.8 675.7 L713.8 675.5 L715.8 675.3 L717.8 675.1 L719.8 674.8 L721.8 674.6 L723.8 674.3 L725.8 674.0 L727.8 673.6 L729.8 673.3 L731.8 672.9 L733.8 672.5 L735.8 672.2 L737.7 671.7 L739.7 671.3 L741.7 670.9 L743.7 670.4 L745.7 669.9 L747.7 669.4 L749.6 668.9 L751.6 668.4 L753.6 667.9 L755.6 667.3 L757.5 666.8 L759.5 666.2 L761.4 665.6 L763.4 665.1 L765.3 664.5 L767.3 663.9 L769.2 663.2 L771.1 662.6 L773.1 662.0 L775.0 661.3 L776.9 660.7 L778.8 660.0 L780.7 659.4 L782.6 658.7 L784.5 658.0 L786.4 657.4 L788.3 656.7 L790.2 656.0 L792.1 655.3 L794.0 654.5 L795.8 653.8 L797.7 653.1 L799.6 652.4 L801.4 651.6 L803.3 650.9 L805.2 650.1 L807.0 649.4 L808.9 648.6 L810.7 647.8 L812.5 647.0 L814.4 646.3 L816.2 645.5 L818.1 644.7 L819.9 643.9 L821.7 643.1 L823.5 642.2 L825.3 641.4 L827.2 640.6 L829.0 639.8 L830.8 638.9 L832.6 638.1 L834.4 637.2 L836.2 636.4 L838.0 635.5 L839.8 634.7 L841.6 633.8 L843.4 632.9 L845.2 632.0 L847.0 631.2 L848.7 630.3 L850.5 629.4 L852.3 628.5 L854.1 627.6 L855.9 626.7 L857.6 625.8 L859.4 624.9 L861.2 624.0 L863.0 623.0 L864.7 622.1 L866.5 621.2 L868.3 620.3 L870.0 619.3 L871.8 618.4 L873.6 617.4 L875.3 616.5 L877.1 615.5 L878.8 614.6 L880.6 613.6 L882.4 612.7 L884.1 611.7 L885.9 610.8 L887.6 609.8 L889.4 608.9 L891.1 607.9 L892.9 606.9 L894.7 606.0 L896.4 605.0 L898.2 604.0 L899.9 603.1 L901.7 602.1 L903.4 601.1 L905.2 600.2 L906.9 599.2 L908.7 598.2 L910.4 597.3 L912.2 596.3 L913.9 595.3 L915.7 594.4 L917.4 593.4 L919.2 592.5 L921.0 591.5 L922.7 590.6 L924.5 589.6 L926.2 588.7 L928.0 587.7 L929.7 586.8 L931.5 585.8 L933.3 584.9 L935.0 584.0 L936.8 583.1 L938.6 582.1 L940.3 581.2 L942.1 580.3 L943.9 579.4 L945.6 578.5 L947.4 577.6 L949.2 576.7 L951.0 575.8 L952.7 574.9 L954.5 574.0 L956.3 573.2 L958.1 572.3 L959.9 571.5 L961.7 570.6 L963.5 569.8 L965.2 568.9 L967.0 568.1 L968.8 567.3 L970.6 566.5 L972.4 565.6 L974.2 564.8 L976.1 564.1 L977.9 563.3 L979.7 562.5 L981.5 561.7 L983.3 561.0 L985.1 560.2 L987.0 559.5 L988.8 558.7 L990.6 558.0 L992.4 557.2 L994.3 556.5 L996.1 555.8 L997.9 555.1 L999.8 554.4 L1001.6 553.6 L1003.5 552.9 L1005.3 552.2 L1007.2 551.5 L1009.0 550.8 L1010.9 550.1 L1012.7 549.4 L1014.6 548.7 L1016.4 548.1 L1018.3 547.4 L1020.2 546.7 L1022.0 546.0 L1023.9 545.3 L1025.8 544.6 L1027.6 543.9 L1029.5 543.2 L1031.4 542.5 L1033.3 541.8 L1035.1 541.1 L1037.0 540.4 L1038.9 539.7 L1040.8 539.0 L1042.7 538.3 L1044.6 537.6 L1046.5 536.9 L1048.4 536.2 L1050.2 535.5 L1052.1 534.8 L1054.0 534.0 L1055.9 533.3 L1057.8 532.6 L1059.7 531.8 L1061.7 531.1 L1063.6 530.4 L1065.5 529.6 L1067.4 528.9 L1069.3 528.1 L1071.2 527.4 L1073.1 526.7 L1075.0 526.0 L1077.0 525.2 L1078.9 524.5 L1080.8 523.8 L1082.7 523.1 L1084.6 522.4 L1086.6 521.8 L1088.5 521.1 L1090.4 520.4 L1092.3 519.8 L1094.3 519.1 L1096.2 518.5 L1098.1 517.8 L1100.1 517.2 L1102.0 516.6 L1104.0 516.0 L1105.9 515.4 L1107.8 514.8 L1109.8 514.3 L1111.7 513.7 L1113.7 513.2 L1115.6 512.6 L1117.6 512.1 L1119.5 511.6 L1121.4 511.1 L1123.4 510.6 L1125.3 510.2 L1127.3 509.7 L1129.3 509.3 L1131.2 508.8 L1133.2 508.4 L1135.1 508.0 L1137.1 507.6 L1139.0 507.3 L1141.0 506.9 L1142.9 506.5 L1144.9 506.2 L1146.9 505.9 L1148.8 505.6 L1150.8 505.3 L1152.8 505.0 L1154.7 504.7 L1156.7 504.4 L1158.6 504.1 L1160.6 503.9 L1162.6 503.6 L1164.5 503.4 L1166.5 503.1 L1168.5 502.9 L1170.5 502.7 L1172.4 502.5 L1174.4 502.3 L1176.4 502.1 L1178.3 501.9 L1180.3 501.7 L1182.3 501.5 L1184.3 501.4 L1186.2 501.2 L1188.2 501.0 L1190.2 500.9 L1192.2 500.7 L1194.1 500.6 L1196.1 500.4 L1198.1 500.3 L1200.1 500.2 L1202.0 500.0 L1204.0 499.9 L1206.0 499.8 L1208.0 499.6 L1209.9 499.5 L1211.9 499.4 L1213.9 499.3 L1215.9 499.1 L1217.9 499.0 L1219.8 498.9 L1221.8 498.8 L1223.8 498.7 L1225.8 498.5 L1227.8 498.4 L1229.7 498.3 L1231.7 498.2 L1233.7 498.0 L1235.7 497.9 L1237.6 497.8 L1239.6 497.6 L1241.6 497.5 L1243.6 497.3 L1245.6 497.2 L1247.5 497.0 L1249.5 496.8 L1251.5 496.7 L1253.5 496.5 L1255.5 496.3 L1257.4 496.1 L1259.4 495.8 L1261.4 495.6 L1263.4 495.4 L1265.4 495.1 L1267.3 494.8 L1269.3 494.5 L1271.3 494.3 L1273.3 493.9 L1275.3 493.6 L1277.2 493.3 L1279.2 492.9 L1281.2 492.5 L1283.2 492.1 L1285.2 491.7 L1287.1 491.3 L1289.1 490.9 L1291.1 490.4 L1293.1 490.0 L1295.1 489.5 L1297.0 489.0 L1299.0 488.6 L1301.0 488.1 L1303.0 487.6 L1304.9 487.1 L1306.9 486.6 L1308.9 486.1 L1310.9 485.7 L1312.9 485.2 L1314.8 484.7 L1316.8 484.2 L1318.8 483.8 L1320.8 483.3 L1322.8 482.9 L1324.7 482.4 L1326.7 482.0 L1328.7 481.6 L1330.7 481.2 L1332.6 480.8 L1334.6 480.4 L1336.6 480.0 L1338.6 479.7 L1340.5 479.3 L1342.5 479.0 L1344.5 478.7 L1346.5 478.4 L1348.5 478.1 L1350.4 477.9 L1352.4 477.6 L1354.4 477.4 L1356.4 477.1 L1358.3 476.9 L1360.3 476.7 L1362.3 476.6 L1364.3 476.4 L1366.2 476.2 L1368.2 476.1 L1370.2 476.0 L1372.2 475.9 L1374.1 475.8 L1376.1 475.7 L1378.1 475.7 L1380.1 475.6 L1382.0 475.6 L1384.0 475.6 L1386.0 475.6 L1388.0 475.6 L1389.9 475.7 L1391.9 475.7 L1393.9 475.8 L1395.8 475.9 L1397.8 476.0 L1399.8 476.1 L1401.8 476.3 L1403.7 476.4 L1405.7 476.6 L1407.7 476.8 L1409.6 477.0 L1411.6 477.3 L1413.6 477.5 L1415.6 477.8 L1417.5 478.1 L1419.5 478.4 L1421.5 478.7 L1423.4 479.0 L1425.4 479.4 L1427.4 479.8 L1429.3 480.2 L1431.3 480.6 L1433.3 481.0 L1435.2 481.5 L1437.2 482.0 L1439.2 482.5 L1441.1 483.0 L1443.1 483.5 L1445.1 484.0 L1447.0 484.6 L1449.0 485.1 L1450.9 485.7 L1452.9 486.3 L1454.8 486.9 L1456.8 487.5 L1458.7 488.1 L1460.7 488.7 L1462.6 489.3 L1464.6 490.0 L1466.5 490.6 L1468.5 491.2 L1470.4 491.9 L1472.3 492.5 L1474.3 493.2 L1476.2 493.8 L1478.1 494.5 L1480.0 495.2 L1481.9 495.8 L1483.8 496.5 L1485.8 497.1 L1487.7 497.8 L1489.6 498.4 L1491.4 499.1 L1493.3 499.7 L1495.2 500.4 L1497.1 501.0 L1499.0 501.6 L1500.8 502.2 L1502.7 502.9 L1504.6 503.5 L1506.4 504.1 L1508.2 504.8 L1510.0 505.5 L1511.8 506.2 L1513.5 507.0 L1515.2 507.8 L1516.9 508.6 L1518.6 509.5 L1520.2 510.4 L1521.8 511.4 L1523.4 512.5 L1524.9 513.6 L1526.4 514.8 L1527.8 516.0 L1529.2 517.4 L1530.6 518.8 L1531.9 520.2 L1533.1 521.8 L1534.4 523.3 L1535.5 525.0 L1536.7 526.6 L1537.8 528.4 L1538.9 530.1 L1539.9 531.9 L1540.9 533.7 L1541.8 535.6 L1542.8 537.5 L1543.6 539.4 L1544.5 541.3 L1545.3 543.2 L1546.1 545.2 L1546.8 547.1 L1547.5 549.1 L1548.2 551.0 L1548.8 553.0 L1549.4 554.9 L1550.0 556.9 L1550.5 558.8 L1551.1 560.7 L1551.6 562.7 L1552.0 564.6 L1552.5 566.5 L1552.9 568.5 L1553.3 570.4 L1553.7 572.3 L1554.1 574.2 L1554.5 576.2 L1554.8 578.1 L1555.2 580.0 L1555.5 581.9 L1555.8 583.8 L1556.2 585.7 L1556.5 587.6" stroke="#b9622a" stroke-dasharray="6 4"/>
<path d="M274.7 797.8 L275.4 795.9 L276.1 794.1 L276.8 792.2 L277.5 790.4 L278.3 788.5 L279.0 786.7 L279.8 784.9 L280.5 783.0 L281.3 781.2 L282.1 779.4 L282.9 777.6 L283.7 775.8 L284.5 773.9 L285.3 772.1 L286.1 770.3 L286.9 768.5 L287.8 766.7 L288.6 764.9 L289.5 763.1 L290.4 761.3 L291.2 759.6 L292.1 757.8 L293.0 756.0 L293.9 754.2 L294.9 752.4 L295.8 750.7 L296.7 748.9 L297.7 747.2 L298.6 745.4 L299.6 743.7 L300.5 741.9 L301.5 740.2 L302.5 738.4 L303.5 736.7 L304.5 735.0 L305.5 733.2 L306.5 731.5 L307.6 729.8 L308.6 728.1 L309.6 726.4 L310.7 724.7 L311.8 723.0 L312.8 721.3 L313.9 719.6 L315.0 717.9 L316.1 716.2 L317.2 714.6 L318.3 712.9 L319.4 711.2 L320.6 709.6 L321.7 707.9 L322.8 706.3 L324.0 704.6 L325.1 703.0 L326.3 701.4 L327.5 699.7 L328.7 698.1 L329.9 696.5 L331.1 694.9 L332.3 693.3 L333.5 691.7 L334.7 690.1 L335.9 688.5 L337.2 686.9 L338.4 685.3 L339.7 683.8 L340.9 682.2 L342.2 680.6 L343.5 679.1 L344.8 677.5 L346.1 676.0 L347.4 674.5 L348.7 672.9 L350.0 671.4 L351.3 669.9 L352.6 668.4 L354.0 666.9 L355.3 665.4 L356.7 663.9 L358.0 662.4 L359.4 660.9 L360.8 659.5 L362.1 658.0 L363.5 656.5 L364.9 655.1 L366.3 653.6 L367.7 652.2 L369.1 650.8 L370.6 649.4 L372.0 647.9 L373.4 646.5 L374.9 645.1 L376.3 643.7 L377.8 642.3 L379.2 641.0 L380.7 639.6 L382.2 638.2 L383.6 636.9 L385.1 635.5 L386.6 634.2 L388.1 632.8 L389.6 631.5 L391.1 630.2 L392.6 628.9 L394.2 627.6 L395.7 626.3 L397.2 625.0 L398.8 623.7 L400.3 622.4 L401.9 621.1 L403.4 619.9 L405.0 618.6 L406.6 617.4 L408.2 616.1 L409.7 614.9 L411.3 613.7 L412.9 612.5 L414.5 611.3 L416.1 610.1 L417.7 608.9 L419.4 607.7 L421.0 606.6 L422.6 605.4 L424.3 604.3 L425.9 603.1 L427.5 602.0 L429.2 600.9 L430.8 599.7 L432.5 598.6 L434.2 597.5 L435.8 596.4 L437.5 595.4 L439.2 594.3 L440.9 593.2 L442.6 592.2 L444.3 591.1 L446.0 590.1 L447.7 589.1 L449.4 588.1 L451.1 587.0 L452.9 586.0 L454.6 585.1 L456.3 584.1 L458.1 583.1 L459.8 582.2 L461.5 581.2 L463.3 580.3 L465.1 579.3 L466.8 578.4 L468.6 577.5 L470.3 576.6 L472.1 575.7 L473.9 574.8 L475.7 574.0 L477.5 573.1 L479.3 572.2 L481.1 571.4 L482.9 570.6 L484.7 569.7 L486.5 568.9 L488.3 568.1 L490.1 567.3 L491.9 566.5 L493.7 565.7 L495.6 565.0 L497.4 564.2 L499.2 563.4 L501.1 562.7 L502.9 561.9 L504.8 561.2 L506.6 560.5 L508.5 559.8 L510.3 559.1 L512.2 558.4 L514.1 557.7 L515.9 557.0 L517.8 556.3 L519.7 555.7 L521.5 555.0 L523.4 554.4 L525.3 553.7 L527.2 553.1 L529.1 552.4 L531.0 551.8 L532.9 551.2 L534.8 550.6 L536.7 550.0 L538.6 549.4 L540.5 548.8 L542.4 548.2 L544.3 547.7 L546.2 547.1 L548.1 546.5 L550.1 546.0 L552.0 545.4 L553.9 544.9 L555.8 544.4 L557.8 543.8 L559.7 543.3 L561.6 542.8 L563.6 542.3 L565.5 541.8 L567.5 541.3 L569.4 540.8 L571.3 540.3 L573.3 539.9 L575.2 539.4 L577.2 538.9 L579.1 538.5 L581.1 538.0 L583.1 537.5 L585.0 537.1 L587.0 536.7 L588.9 536.2 L590.9 535.8 L592.9 535.4 L594.8 535.0 L596.8 534.5 L598.8 534.1 L600.7 533.7 L602.7 533.3 L604.7 532.9 L606.7 532.5 L608.6 532.2 L610.6 531.8 L612.6 531.4 L614.6 531.0 L616.6 530.7 L618.5 530.3 L620.5 529.9 L622.5 529.6 L624.5 529.2 L626.5 528.9 L628.5 528.5 L630.4 528.2 L632.4 527.9 L634.4 527.5 L636.4 527.2 L638.4 526.9 L640.4 526.6 L642.4 526.2 L644.4 525.9 L646.3 525.6 L648.3 525.3 L650.3 525.0 L652.3 524.7 L654.3 524.4 L656.3 524.1 L658.3 523.8 L660.3 523.5 L662.3 523.3 L664.3 523.0 L666.3 522.7 L668.3 522.5 L670.3 522.2 L672.3 521.9 L674.2 521.7 L676.2 521.5 L678.2 521.2 L680.2 521.0 L682.2 520.8 L684.2 520.6 L686.2 520.3 L688.2 520.1 L690.2 519.9 L692.2 519.8 L694.2 519.6 L696.2 519.4 L698.2 519.2 L700.2 519.1 L702.2 518.9 L704.2 518.8 L706.2 518.7 L708.2 518.5 L710.2 518.4 L712.2 518.3 L714.2 518.2 L716.2 518.1 L718.2 518.0 L720.2 518.0 L722.2 517.9 L724.2 517.9 L726.2 517.8 L728.2 517.8 L730.2 517.8 L732.2 517.7 L734.2 517.7 L736.2 517.7 L738.2 517.7 L740.2 517.7 L742.2 517.8 L744.2 517.8 L746.2 517.8 L748.2 517.9 L750.2 517.9 L752.2 518.0 L754.2 518.0 L756.2 518.1 L758.2 518.1 L760.2 518.2 L762.2 518.3 L764.2 518.4 L766.2 518.4 L768.2 518.5 L770.2 518.6 L772.2 518.7 L774.2 518.8 L776.2 518.9 L778.2 519.0 L780.2 519.1 L782.2 519.2 L784.2 519.3 L786.2 519.4 L788.2 519.5 L790.2 519.6 L792.2 519.7 L794.2 519.8 L796.2 519.9 L798.2 520.0 L800.2 520.1 L802.2 520.3 L804.2 520.4 L806.2 520.5 L808.2 520.6 L810.2 520.7 L812.2 520.8 L814.2 520.9 L816.2 521.0 L818.2 521.1 L820.2 521.2 L822.2 521.3 L824.2 521.3 L826.1 521.4 L828.1 521.5 L830.1 521.6 L832.1 521.7 L834.1 521.8 L836.1 521.9 L838.1 522.0 L840.1 522.1 L842.1 522.2 L844.1 522.3 L846.1 522.4 L848.1 522.4 L850.1 522.5 L852.1 522.6 L854.1 522.7 L856.1 522.8 L858.1 522.9 L860.1 523.0 L862.1 523.1 L864.1 523.1 L866.1 523.2 L868.0 523.3 L870.0 523.4 L872.0 523.5 L874.0 523.6 L876.0 523.7 L878.0 523.7 L880.0 523.8 L882.0 523.9 L884.0 524.0 L886.0 524.1 L888.0 524.2 L890.0 524.3 L892.0 524.3 L894.0 524.4 L896.0 524.5 L897.9 524.6 L899.9 524.7 L901.9 524.8 L903.9 524.9 L905.9 524.9 L907.9 525.0 L909.9 525.1 L911.9 525.2 L913.9 525.3 L915.9 525.4 L917.9 525.5 L919.9 525.6 L921.9 525.7 L923.8 525.8 L925.8 525.8 L927.8 525.9 L929.8 526.0 L931.8 526.1 L933.8 526.2 L935.8 526.3 L937.8 526.4 L939.8 526.5 L941.8 526.6 L943.8 526.7 L945.8 526.8 L947.7 526.9 L949.7 527.0 L951.7 527.1 L953.7 527.2 L955.7 527.3 L957.7 527.4 L959.7 527.5 L961.7 527.6 L963.7 527.7 L965.7 527.8 L967.7 527.9 L969.7 528.0 L971.6 528.1 L973.6 528.3 L975.6 528.4 L977.6 528.5 L979.6 528.6 L981.6 528.7 L983.6 528.8 L985.6 528.9 L987.6 529.1 L989.6 529.2 L991.6 529.3 L993.5 529.4 L995.5 529.6 L997.5 529.7 L999.5 529.8 L1001.5 529.9 L1003.5 530.1 L1005.5 530.2 L1007.5 530.3 L1009.5 530.5 L1011.5 530.6 L1013.5 530.8 L1015.5 530.9 L1017.4 531.0 L1019.4 531.2 L1021.4 531.3 L1023.4 531.5 L1025.4 531.6 L1027.4 531.8 L1029.4 531.9 L1031.4 532.1 L1033.4 532.2 L1035.4 532.4 L1037.4 532.5 L1039.4 532.7 L1041.4 532.9 L1043.3 533.0 L1045.3 533.2 L1047.3 533.4 L1049.3 533.5 L1051.3 533.7 L1053.3 533.9 L1055.3 534.1 L1057.3 534.2 L1059.3 534.4 L1061.3 534.6 L1063.3 534.8 L1065.3 535.0 L1067.3 535.2 L1069.3 535.4 L1071.3 535.6 L1073.2 535.8 L1075.2 536.0 L1077.2 536.2 L1079.2 536.4 L1081.2 536.6 L1083.2 536.8 L1085.2 537.0 L1087.2 537.2 L1089.2 537.4 L1091.2 537.6 L1093.2 537.9 L1095.2 538.1 L1097.2 538.3 L1099.2 538.5 L1101.2 538.8 L1103.2 539.0 L1105.2 539.2 L1107.2 539.5 L1109.2 539.7 L1111.2 540.0 L1113.2 540.2 L1115.1 540.5 L1117.1 540.7 L1119.1 541.0 L1121.1 541.2 L1123.1 541.5 L1125.1 541.7 L1127.1 542.0 L1129.1 542.3 L1131.1 542.5 L1133.1 542.8 L1135.1 543.1 L1137.1 543.3 L1139.1 543.6 L1141.1 543.9 L1143.1 544.2 L1145.1 544.4 L1147.1 544.7 L1149.1 545.0 L1151.1 545.3 L1153.1 545.6 L1155.1 545.9 L1157.1 546.1 L1159.1 546.4 L1161.1 546.7 L1163.1 547.0 L1165.1 547.3 L1167.1 547.6 L1169.1 547.9 L1171.1 548.2 L1173.1 548.5 L1175.0 548.8 L1177.0 549.1 L1179.0 549.4 L1181.0 549.7 L1183.0 550.0 L1185.0 550.3 L1187.0 550.6 L1189.0 550.9 L1191.0 551.2 L1193.0 551.5 L1195.0 551.8 L1197.0 552.1 L1199.0 552.4 L1201.0 552.7 L1203.0 553.0 L1205.0 553.4 L1207.0 553.7 L1209.0 554.0 L1210.9 554.3 L1212.9 554.6 L1214.9 554.9 L1216.9 555.2 L1218.9 555.5 L1220.9 555.8 L1222.9 556.1 L1224.9 556.4 L1226.9 556.7 L1228.9 557.1 L1230.9 557.4 L1232.9 557.7 L1234.8 558.0 L1236.8 558.3 L1238.8 558.6 L1240.8 558.9 L1242.8 559.2 L1244.8 559.5 L1246.8 559.8 L1248.8 560.1 L1250.8 560.4 L1252.7 560.7 L1254.7 561.0 L1256.7 561.3 L1258.7 561.6 L1260.7 561.9 L1262.7 562.2 L1264.7 562.5 L1266.6 562.8 L1268.6 563.1 L1270.6 563.4 L1272.6 563.7 L1274.6 564.0 L1276.6 564.3 L1278.5 564.6 L1280.5 564.8 L1282.5 565.1 L1284.5 565.4 L1286.5 565.7 L1288.4 566.0 L1290.4 566.3 L1292.4 566.5 L1294.4 566.8 L1296.4 567.1 L1298.3 567.4 L1300.3 567.7 L1302.3 568.0 L1304.3 568.2 L1306.2 568.5 L1308.2 568.8 L1310.2 569.1 L1312.2 569.4 L1314.1 569.7 L1316.1 569.9 L1318.1 570.2 L1320.0 570.5 L1322.0 570.8 L1324.0 571.1 L1326.0 571.4 L1327.9 571.7 L1329.9 572.0 L1331.9 572.3 L1333.8 572.6 L1335.8 572.9 L1337.8 573.2 L1339.7 573.6 L1341.7 573.9 L1343.7 574.2 L1345.6 574.5 L1347.6 574.9 L1349.5 575.2 L1351.5 575.5 L1353.5 575.9 L1355.4 576.2 L1357.4 576.6 L1359.3 576.9 L1361.3 577.3 L1363.3 577.6 L1365.2 578.0 L1367.2 578.4 L1369.1 578.8 L1371.1 579.1 L1373.0 579.5 L1375.0 579.9 L1376.9 580.3 L1378.9 580.7 L1380.8 581.2 L1382.8 581.6 L1384.7 582.0 L1386.7 582.4 L1388.6 582.9 L1390.6 583.3 L1392.5 583.8 L1394.5 584.2 L1396.4 584.7 L1398.4 585.2 L1400.3 585.7 L1402.2 586.2 L1404.2 586.7 L1406.1 587.2 L1408.1 587.7 L1410.0 588.2 L1411.9 588.8 L1413.9 589.3 L1415.8 589.9 L1417.7 590.4 L1419.7 591.0 L1421.6 591.6 L1423.5 592.2 L1425.4 592.8 L1427.3 593.4 L1429.2 594.0 L1431.1 594.6 L1433.0 595.3 L1434.9 595.9 L1436.8 596.6 L1438.7 597.2 L1440.6 597.9 L1442.5 598.6 L1444.4 599.3 L1446.2 600.0 L1448.1 600.8 L1450.0 601.5 L1451.8 602.3 L1453.6 603.0 L1455.5 603.8 L1457.3 604.6 L1459.1 605.4 L1461.0 606.2 L1462.8 607.0 L1464.6 607.9 L1466.4 608.7 L1468.1 609.6 L1469.9 610.4 L1471.7 611.3 L1473.4 612.2 L1475.2 613.2 L1476.9 614.1 L1478.7 615.0 L1480.4 616.0 L1482.1 617.0 L1483.8 618.0 L1485.5 619.0 L1487.2 620.0 L1488.8 621.0 L1490.5 622.1 L1492.1 623.2 L1493.8 624.2 L1495.4 625.3 L1497.0 626.5 L1498.6 627.6 L1500.2 628.7 L1501.8 629.9 L1503.3 631.1 L1504.9 632.3 L1506.4 633.5 L1507.9 634.8 L1509.5 636.0 L1511.0 637.3 L1512.4 638.6 L1513.9 639.9 L1515.4 641.2 L1516.8 642.6 L1518.2 644.0 L1519.6 645.4 L1521.0 646.8 L1522.4 648.2 L1523.8 649.7 L1525.1 651.1 L1526.4 652.6 L1527.7 654.1 L1529.0 655.7 L1530.3 657.2 L1531.6 658.8 L1532.8 660.3 L1534.1 661.9 L1535.3 663.5 L1536.5 665.2 L1537.6 666.8 L1538.8 668.5 L1539.9 670.2 L1541.0 671.9 L1542.1 673.6 L1543.2 675.3 L1544.3 677.1 L1545.3 678.9 L1546.4 680.7 L1547.4 682.5 L1548.3 684.3 L1549.3 686.1 L1550.2 688.0 L1551.2 689.8 L1552.1 691.7 L1552.9 693.6 L1553.8 695.5 L1554.6 697.5 L1555.4 699.4 L1556.2 701.4 L1557.0 703.4" stroke="#000"/>
<path d="M274.3 938.1 L275.7 936.7 L277.0 935.2 L278.4 933.8 L279.8 932.4 L281.2 930.9 L282.6 929.5 L284.0 928.0 L285.4 926.6 L286.8 925.2 L288.2 923.7 L289.6 922.3 L291.0 920.9 L292.4 919.4 L293.8 918.0 L295.2 916.6 L296.6 915.1 L298.0 913.7 L299.4 912.3 L300.8 910.9 L302.3 909.4 L303.7 908.0 L305.1 906.6 L306.5 905.2 L307.9 903.7 L309.3 902.3 L310.8 900.9 L312.2 899.5 L313.6 898.1 L315.0 896.7 L316.5 895.3 L317.9 893.8 L319.3 892.4 L320.8 891.0 L322.2 889.6 L323.6 888.2 L325.1 886.8 L326.5 885.4 L327.9 884.0 L329.4 882.6 L330.8 881.2 L332.3 879.8 L333.7 878.4 L335.2 877.0 L336.6 875.6 L338.1 874.2 L339.5 872.9 L341.0 871.5 L342.4 870.1 L343.9 868.7 L345.3 867.3 L346.8 865.9 L348.2 864.5 L349.7 863.2 L351.2 861.8 L352.6 860.4 L354.1 859.0 L355.6 857.7 L357.0 856.3 L358.5 854.9 L360.0 853.6 L361.4 852.2 L362.9 850.8 L364.4 849.5 L365.9 848.1 L367.3 846.8 L368.8 845.4 L370.3 844.1 L371.8 842.7 L373.3 841.4 L374.7 840.0 L376.2 838.7 L377.7 837.3 L379.2 836.0 L380.7 834.6 L382.2 833.3 L383.7 832.0 L385.2 830.6 L386.7 829.3 L388.2 828.0 L389.7 826.6 L391.2 825.3 L392.7 824.0 L394.2 822.7 L395.7 821.4 L397.2 820.0 L398.7 818.7 L400.2 817.4 L401.7 816.1 L403.2 814.8 L404.7 813.5 L406.2 812.2 L407.7 810.9 L409.3 809.6 L410.8 808.3 L412.3 807.0 L413.8 805.7 L415.3 804.4 L416.9 803.1 L418.4 801.8 L419.9 800.5 L421.4 799.3 L423.0 798.0 L424.5 796.7 L426.0 795.4 L427.5 794.1 L429.1 792.9 L430.6 791.6 L432.1 790.3 L433.7 789.1 L435.2 787.8 L436.8 786.6 L438.3 785.3 L439.8 784.0 L441.4 782.8 L442.9 781.5 L444.5 780.3 L446.0 779.1 L447.6 777.8 L449.1 776.6 L450.7 775.3 L452.2 774.1 L453.8 772.9 L455.3 771.6 L456.9 770.4 L458.5 769.2 L460.0 767.9 L461.6 766.7 L463.1 765.5 L464.7 764.2 L466.3 763.0 L467.8 761.8 L469.4 760.6 L471.0 759.4 L472.5 758.2 L474.1 756.9 L475.7 755.7 L477.2 754.5 L478.8 753.3 L480.4 752.1 L482.0 750.9 L483.6 749.7 L485.1 748.5 L486.7 747.3 L488.3 746.1 L489.9 744.9 L491.5 743.7 L493.1 742.5 L494.6 741.3 L496.2 740.1 L497.8 738.9 L499.4 737.7 L501.0 736.5 L502.6 735.3 L504.2 734.1 L505.8 732.9 L507.4 731.8 L509.0 730.6 L510.6 729.4 L512.2 728.2 L513.8 727.0 L515.4 725.8 L517.0 724.7 L518.6 723.5 L520.2 722.3 L521.8 721.1 L523.4 719.9 L525.0 718.7 L526.7 717.6 L528.3 716.4 L529.9 715.2 L531.5 714.0 L533.1 712.9 L534.7 711.7 L536.4 710.5 L538.0 709.3 L539.6 708.2 L541.2 707.0 L542.9 705.8 L544.5 704.6 L546.1 703.5 L547.7 702.3 L549.4 701.1 L551.0 699.9 L552.6 698.8 L554.3 697.6 L555.9 696.4 L557.5 695.3 L559.2 694.1 L560.8 692.9 L562.5 691.7 L564.1 690.6 L565.7 689.4 L567.4 688.2 L569.0 687.1 L570.7 685.9 L572.3 684.7 L574.0 683.5 L575.6 682.4 L577.3 681.2 L578.9 680.0 L580.6 678.9 L582.2 677.7 L583.9 676.5 L585.5 675.3 L587.2 674.2 L588.9 673.0 L590.5 671.8 L592.2 670.7 L593.8 669.5 L595.5 668.3 L597.2 667.2 L598.8 666.0 L600.5 664.9 L602.2 663.7 L603.8 662.5 L605.5 661.4 L607.2 660.2 L608.9 659.1 L610.5 657.9 L612.2 656.8 L613.9 655.6 L615.6 654.5 L617.2 653.3 L618.9 652.2 L620.6 651.0 L622.3 649.9 L624.0 648.8 L625.6 647.6 L627.3 646.5 L629.0 645.4 L630.7 644.2 L632.4 643.1 L634.1 642.0 L635.8 640.9 L637.4 639.8 L639.1 638.6 L640.8 637.5 L642.5 636.4 L644.2 635.3 L645.9 634.2 L647.6 633.1 L649.3 632.0 L651.0 630.9 L652.7 629.8 L654.4 628.8 L656.1 627.7 L657.8 626.6 L659.5 625.5 L661.2 624.4 L662.9 623.4 L664.6 622.3 L666.3 621.2 L668.0 620.2 L669.7 619.1 L671.4 618.1 L673.1 617.0 L674.9 616.0 L676.6 615.0 L678.3 613.9 L680.0 612.9 L681.7 611.9 L683.4 610.8 L685.1 609.8 L686.9 608.8 L688.6 607.8 L690.3 606.8 L692.0 605.8 L693.7 604.8 L695.4 603.8 L697.2 602.8 L698.9 601.8 L700.6 600.8 L702.3 599.8 L704.1 598.8 L705.8 597.8 L707.5 596.9 L709.2 595.9 L711.0 594.9 L712.7 593.9 L714.4 593.0 L716.1 592.0 L717.9 591.0 L719.6 590.1 L721.3 589.1 L723.1 588.2 L724.8 587.2 L726.5 586.3 L728.3 585.3 L730.0 584.4 L731.7 583.4 L733.5 582.5 L735.2 581.5 L736.9 580.6 L738.7 579.6 L740.4 578.7 L742.2 577.8 L743.9 576.8 L745.6 575.9 L747.4 574.9 L749.1 574.0 L750.9 573.1 L752.6 572.2 L754.3 571.2 L756.1 570.3 L757.8 569.4 L759.6 568.4 L761.3 567.5 L763.1 566.6 L764.8 565.7 L766.6 564.7 L768.3 563.8 L770.1 562.9 L771.8 562.0 L773.6 561.0 L775.3 560.1 L777.1 559.2 L778.8 558.3 L780.6 557.3 L782.3 556.4 L784.1 555.5 L785.8 554.6 L787.6 553.6 L789.3 552.7 L791.1 551.8 L792.8 550.9 L794.6 549.9 L796.3 549.0 L798.1 548.1 L799.8 547.2 L801.6 546.2 L803.4 545.3 L805.1 544.4 L806.9 543.4 L808.6 542.5 L810.4 541.6 L812.2 540.6 L813.9 539.7 L815.7 538.8 L817.4 537.8 L819.2 536.9 L821.0 536.0 L822.7 535.0 L824.5 534.1 L826.2 533.2 L828.0 532.2 L829.8 531.3 L831.5 530.4 L833.3 529.4 L835.1 528.5 L836.8 527.5 L838.6 526.6 L840.4 525.7 L842.1 524.7 L843.9 523.8 L845.7 522.8 L847.4 521.9 L849.2 521.0 L851.0 520.0 L852.8 519.1 L854.5 518.1 L856.3 517.2 L858.1 516.3 L859.8 515.3 L861.6 514.4 L863.4 513.4 L865.2 512.5 L866.9 511.6 L868.7 510.6 L870.5 509.7 L872.3 508.8 L874.0 507.8 L875.8 506.9 L877.6 505.9 L879.4 505.0 L881.2 504.1 L882.9 503.1 L884.7 502.2 L886.5 501.3 L888.3 500.3 L890.1 499.4 L891.8 498.5 L893.6 497.5 L895.4 496.6 L897.2 495.7 L899.0 494.7 L900.8 493.8 L902.5 492.9 L904.3 492.0 L906.1 491.0 L907.9 490.1 L909.7 489.2 L911.5 488.2 L913.3 487.3 L915.1 486.4 L916.9 485.5 L918.6 484.6 L920.4 483.6 L922.2 482.7 L924.0 481.8 L925.8 480.9 L927.6 480.0 L929.4 479.0 L931.2 478.1 L933.0 477.2 L934.8 476.3 L936.6 475.4 L938.4 474.5 L940.2 473.6 L942.0 472.7 L943.8 471.8 L945.6 470.9 L947.4 470.0 L949.2 469.1 L951.0 468.2 L952.8 467.3 L954.6 466.4 L956.4 465.5 L958.2 464.6 L960.0 463.7 L961.8 462.8 L963.6 461.9 L965.4 461.0 L967.2 460.1 L969.0 459.2 L970.8 458.4 L972.7 457.5 L974.5 456.6 L976.3 455.7 L978.1 454.8 L979.9 454.0 L981.7 453.1 L983.5 452.2 L985.3 451.4 L987.2 450.5 L989.0 449.6 L990.8 448.8 L992.6 447.9 L994.4 447.0 L996.2 446.2 L998.1 445.3 L999.9 444.5 L1001.7 443.6 L1003.5 442.8 L1005.3 441.9 L1007.2 441.1 L1009.0 440.3 L1010.8 439.4 L1012.6 438.6 L1014.5 437.8 L1016.3 436.9 L1018.1 436.1 L1019.9 435.3 L1021.8 434.4 L1023.6 433.6 L1025.4 432.8 L1027.3 432.0 L1029.1 431.2 L1030.9 430.4 L1032.8 429.5 L1034.6 428.7 L1036.4 427.9 L1038.3 427.1 L1040.1 426.3 L1041.9 425.5 L1043.8 424.7 L1045.6 424.0 L1047.5 423.2 L1049.3 422.4 L1051.1 421.6 L1053.0 420.8 L1054.8 420.0 L1056.7 419.3 L1058.5 418.5 L1060.3 417.7 L1062.2 417.0 L1064.0 416.2 L1065.9 415.4 L1067.7 414.7 L1069.6 413.9 L1071.4 413.2 L1073.3 412.4 L1075.1 411.7 L1077.0 410.9 L1078.8 410.2 L1080.7 409.5 L1082.5 408.7 L1084.4 408.0 L1086.2 407.3 L1088.1 406.5 L1090.0 405.8 L1091.8 405.1 L1093.7 404.4 L1095.5 403.6 L1097.4 402.9 L1099.2 402.2 L1101.1 401.5 L1103.0 400.8 L1104.8 400.1 L1106.7 399.4 L1108.6 398.7 L1110.4 398.0 L1112.3 397.3 L1114.2 396.6 L1116.0 395.9 L1117.9 395.2 L1119.8 394.5 L1121.6 393.8 L1123.5 393.1 L1125.4 392.4 L1127.2 391.7 L1129.1 391.0 L1131.0 390.4 L1132.8 389.7 L1134.7 389.0 L1136.6 388.3 L1138.5 387.7 L1140.3 387.0 L1142.2 386.3 L1144.1 385.6 L1146.0 385.0 L1147.9 384.3 L1149.7 383.6 L1151.6 383.0 L1153.5 382.3 L1155.4 381.7 L1157.3 381.0 L1159.1 380.4 L1161.0 379.7 L1162.9 379.0 L1164.8 378.4 L1166.7 377.7 L1168.6 377.1 L1170.5 376.4 L1172.3 375.8 L1174.2 375.2 L1176.1 374.5 L1178.0 373.9 L1179.9 373.2 L1181.8 372.6 L1183.7 372.0 L1185.6 371.3 L1187.5 370.7 L1189.4 370.0 L1191.3 369.4 L1193.2 368.8 L1195.1 368.1 L1197.0 367.5 L1198.9 366.9 L1200.8 366.3 L1202.7 365.6 L1204.5 365.0 L1206.5 364.4 L1208.4 363.7 L1210.3 363.1 L1212.2 362.5 L1214.1 361.9 L1216.0 361.3 L1217.9 360.6 L1219.8 360.0 L1221.7 359.4 L1223.6 358.8 L1225.5 358.2 L1227.4 357.5 L1229.3 356.9 L1231.2 356.3 L1233.1 355.7 L1235.0 355.1 L1237.0 354.5 L1238.9 353.8 L1240.8 353.2 L1242.7 352.6 L1244.6 352.0 L1246.5 351.4 L1248.4 350.8 L1250.3 350.2 L1252.3 349.6 L1254.2 349.0 L1256.1 348.3 L1258.0 347.7 L1259.9 347.1 L1261.9 346.5 L1263.8 345.9 L1265.7 345.3 L1267.6 344.7 L1269.5 344.1 L1271.5 343.5 L1273.4 342.9 L1275.3 342.3 L1277.2 341.7 L1279.2 341.1 L1281.1 340.5 L1283.0 339.9 L1285.0 339.3 L1286.9 338.7 L1288.8 338.1 L1290.7 337.5 L1292.7 337.0 L1294.6 336.4 L1296.5 335.8 L1298.5 335.2 L1300.4 334.6 L1302.3 334.1 L1304.3 333.5 L1306.2 332.9 L1308.1 332.4 L1310.1 331.8 L1312.0 331.3 L1313.9 330.7 L1315.9 330.2 L1317.8 329.6 L1319.8 329.1 L1321.7 328.5 L1323.6 328.0 L1325.6 327.5 L1327.5 327.0 L1329.5 326.4 L1331.4 325.9 L1333.4 325.4 L1335.3 324.9 L1337.2 324.4 L1339.2 323.9 L1341.1 323.4 L1343.1 322.9 L1345.0 322.4 L1347.0 322.0 L1348.9 321.5 L1350.9 321.0 L1352.8 320.5 L1354.8 320.1 L1356.7 319.6 L1358.7 319.2 L1360.6 318.7 L1362.6 318.3 L1364.5 317.9 L1366.5 317.5 L1368.5 317.1 L1370.4 316.7 L1372.4 316.3 L1374.3 315.9 L1376.3 315.6 L1378.2 315.2 L1380.2 314.9 L1382.2 314.5 L1384.1 314.2 L1386.1 313.9 L1388.0 313.7 L1390.0 313.4 L1392.0 313.2 L1393.9 312.9 L1395.9 312.7 L1397.9 312.5 L1399.8 312.3 L1401.8 312.2 L1403.8 312.1 L1405.7 311.9 L1407.7 311.8 L1409.7 311.8 L1411.6 311.7 L1413.6 311.7 L1415.6 311.7 L1417.5 311.7 L1419.5 311.8 L1421.5 311.8 L1423.4 311.9 L1425.4 312.1 L1427.4 312.2 L1429.4 312.4 L1431.3 312.6 L1433.3 312.8 L1435.3 313.1 L1437.3 313.4 L1439.2 313.7 L1441.2 314.0 L1443.2 314.4 L1445.1 314.8 L1447.1 315.2 L1449.0 315.7 L1451.0 316.2 L1452.9 316.7 L1454.9 317.2 L1456.8 317.7 L1458.7 318.3 L1460.6 318.9 L1462.5 319.6 L1464.4 320.2 L1466.3 320.9 L1468.2 321.6 L1470.1 322.3 L1471.9 323.0 L1473.8 323.8 L1475.6 324.6 L1477.4 325.4 L1479.2 326.3 L1481.0 327.1 L1482.8 328.0 L1484.5 329.0 L1486.3 329.9 L1488.0 330.9 L1489.7 332.0 L1491.4 333.0 L1493.1 334.1 L1494.7 335.2 L1496.4 336.4 L1498.0 337.6 L1499.6 338.8 L1501.1 340.0 L1502.7 341.3 L1504.2 342.6 L1505.7 343.9 L1507.2 345.3 L1508.7 346.7 L1510.1 348.1 L1511.5 349.5 L1512.9 351.0 L1514.3 352.5 L1515.6 354.0 L1516.9 355.5 L1518.2 357.0 L1519.4 358.6 L1520.6 360.2 L1521.8 361.8 L1523.0 363.5 L1524.1 365.1 L1525.2 366.8 L1526.3 368.5 L1527.3 370.2 L1528.3 371.9 L1529.3 373.7 L1530.3 375.4 L1531.2 377.2 L1532.1 379.0 L1533.0 380.8 L1533.9 382.6 L1534.7 384.4 L1535.5 386.3 L1536.3 388.1 L1537.1 390.0 L1537.9 391.9 L1538.6 393.7 L1539.3 395.6 L1540.0 397.5 L1540.7 399.4 L1541.4 401.3 L1542.0 403.2 L1542.7 405.2 L1543.3 407.1 L1543.9 409.0 L1544.5 410.9 L1545.1 412.9 L1545.7 414.8 L1546.2 416.8 L1546.8 418.7 L1547.3 420.6 L1547.9 422.6 L1548.4 424.5 L1548.9 426.4 L1549.4 428.4 L1549.9 430.3 L1550.4 432.2 L1550.9 434.2 L1551.4 436.1 L1551.9 438.0 L1552.4 439.9 L1552.8 441.8 L1553.3 443.7 L1553.8 445.6 L1554.3 447.4 L1554.8 449.3 L1555.2 451.2 L1555.7 453.0" stroke="#b9622a"/>
</g>
</svg>

<!-- left panel -->
<div class="bar" style="top:193px;background:#e05a08"></div><div class="cb" style="top:195px;background:#fff"><svg width="9" height="9" style="position:absolute;left:1px;top:1px"><path d="M1 4l2 2 5-5M1 5l2 2 5-5M1 6l2 2 5-5" stroke="#000" stroke-width="1" fill="none"/></svg></div><div class="lbl" style="top:195px;color:#000;outline:1px dotted #000;outline-offset:-1px;padding:0 0 0 1px;top:193px;height:17px;line-height:17px;left:21px;width:22px;">Moc</div>
<div class="bar" style="top:217px;background:#000"></div><div class="cb" style="top:219px;background:#fff"><svg width="9" height="9" style="position:absolute;left:1px;top:1px"><path d="M1 4l2 2 5-5M1 5l2 2 5-5M1 6l2 2 5-5" stroke="#000" stroke-width="1" fill="none"/></svg></div>
<div class="bar" style="top:241px;background:#c0c0c0"></div><div class="cb" style="top:243px;background:#fff"></div><div class="lbl" style="top:243px;color:#000;">Straty</div>
<div class="bar" style="top:265px;background:#c0c0c0"></div><div class="cb" style="top:267px;background:#fff"></div><div class="lbl" style="top:267px;color:#000;">Hamowana</div>
<div class="bar" style="top:289px;background:#c0c0c0"></div><div class="cb" style="top:291px;background:#fff"></div><div class="lbl" style="top:291px;color:#000;">Inercja</div>
<div class="bar" style="top:313px;background:#000"></div><div class="cb" style="top:315px;background:#fff"></div>
<div class="bar" style="top:337px;background:#000"></div><div class="cb" style="top:339px;background:#ece9d8"><svg width="9" height="9" style="position:absolute;left:1px;top:1px"><path d="M1 4l2 2 5-5M1 5l2 2 5-5M1 6l2 2 5-5" stroke="#a0a0a0" stroke-width="1" fill="none"/></svg></div><div class="lbl" style="top:339px;color:#fff;font-size:11.5px;letter-spacing:0;left:22px;width:63px;overflow:hidden;top:337px;height:17px;line-height:17px;">Zew moc str</div>
<div class="bar" style="top:361px;background:#000"></div><div class="cb" style="top:363px;background:#fff"></div>
<div class="bar" style="top:1032px;background:#c0c0c0"></div><div class="cb" style="top:1034px;background:#fff"></div><div class="lbl" style="top:1034px;color:#000;">MAP</div>
<div class="bar" style="top:1056px;background:#ff80c0"></div><div class="cb" style="top:1058px;background:#fff"></div><div class="lbl" style="top:1058px;color:#000;">AFR</div>
<div class="abs" style="left:3px;top:386px;font-size:11px;line-height:13px">B:1250</div>
<div class="abs" style="left:3px;top:402px;font-size:11px;line-height:13px">E:6305</div>
<div class="abs" style="left:4px;top:418px;width:17px;height:24px;background:#ece9d8;border-right:1px solid #716f64;border-bottom:1px solid #716f64;box-shadow:inset -1px -1px 0 #aca899;font-size:11px;line-height:22px;text-align:center">k</div>

<!-- right panel -->
<div class="abs" style="left:1828px;top:185px;width:1px;height:895px;background:#a0a0a0"></div>
<div class="abs" style="left:1919px;top:185px;width:1px;height:895px;background:#a0a0a0"></div>
<div class="rp b" style="left:1738px;top:194px">RUN 1</div>
<div class="rp b" style="left:1738px;top:209px">TCP</div>
<div class="rp b" style="left:1738px;top:225px">2020-01-22</div>
<div class="rp b" style="left:1738px;top:240px">17:54:11</div>
<div class="rp b" style="left:1738px;top:256px">BIA</div>
<div class="rp n" style="left:1738px;top:272px">4WDPASNW</div>
<div class="rp b" style="left:1738px;top:288px">Temp</div>
<div class="rp b" style="left:1738px;top:304px">7.2`C</div>
<div class="rp b" style="left:1738px;top:324px">Cisnienie</div>
<div class="rp b" style="left:1738px;top:339px">100.6kPa</div>
<div class="rp b" style="left:1738px;top:366px">Korekcja</div>
<div class="rp b" style="left:1738px;top:382px">x0.984</div>
<div class="rp b" style="left:1738px;top:406px">PWh</div>
<div class="rp b" style="left:1738px;top:421px">173.8KM@</div>
<div class="rp n" style="left:1738px;top:436px">5333/146.0kmh</div>
<div class="rp bg" style="left:1738px;top:462px">PwrLos</div>
<div class="rp bg" style="left:1738px;top:477px">81.3KM@</div>
<div class="rp ng" style="left:1738px;top:493px">5728/157.0kmh</div>
<div class="rp b" style="left:1738px;top:518px">Tq</div>
<div class="rp b" style="left:1738px;top:534px">358.0Nm@</div>
<div class="rp n" style="left:1738px;top:549px">3023/82.0kmh</div>
<div class="rp b" style="left:1738px;top:573px">Vmax</div>
<div class="rp n" style="left:1738px;top:591px">175.0kmh</div>
<div class="rp b" style="left:1738px;top:617px">RPMmax</div>
<div class="rp n" style="left:1738px;top:634px">6401</div>
<div class="rp b" style="left:1738px;top:660px">rpm/kmh</div>
<div class="rp n" style="left:1738px;top:677px">36.4</div>
<div class="rp b" style="left:1738px;top:704px">Inertia</div>
<div class="rp n" style="left:1738px;top:724px">F636.0+R636.0</div>
<div class="rp b" style="left:1738px;top:752px">Samples</div>
<div class="rp n" style="left:1738px;top:772px">3249</div>
<div class="rp b" style="left:1829px;top:194px">RUN 2</div>
<div class="rp b" style="left:1829px;top:209px">TCP</div>
<div class="rp b" style="left:1829px;top:225px">2020-01-22</div>
<div class="rp b" style="left:1829px;top:240px">15:52:06</div>
<div class="rp b" style="left:1829px;top:256px">BIA</div>
<div class="rp n" style="left:1829px;top:272px">4WDPASNW</div>
<div class="rp b" style="left:1829px;top:288px">Temp</div>
<div class="rp b" style="left:1829px;top:304px">6.5`C</div>
<div class="rp b" style="left:1829px;top:324px">Cisnienie</div>
<div class="rp b" style="left:1829px;top:339px">100.1kPa</div>
<div class="rp b" style="left:1829px;top:366px">Korekcja</div>
<div class="rp b" style="left:1829px;top:382px">x0.988</div>
<div class="rp b" style="left:1829px;top:406px">PWh</div>
<div class="rp b" style="left:1829px;top:421px">120.5KM@</div>
<div class="rp n" style="left:1829px;top:436px">4625/128.0kmh</div>
<div class="rp bg" style="left:1829px;top:462px">PwrLos</div>
<div class="rp bg" style="left:1829px;top:477px">86.2KM@</div>
<div class="rp ng" style="left:1829px;top:493px">5641/156.0kmh</div>
<div class="rp b" style="left:1829px;top:518px">Tq</div>
<div class="rp b" style="left:1829px;top:534px">318.0Nm@</div>
<div class="rp n" style="left:1829px;top:549px">2504/69.0kmh</div>
<div class="rp b" style="left:1829px;top:573px">Vmax</div>
<div class="rp n" style="left:1829px;top:591px">176.0kmh</div>
<div class="rp b" style="left:1829px;top:617px">RPMmax</div>
<div class="rp n" style="left:1829px;top:634px">6354</div>
<div class="rp b" style="left:1829px;top:660px">rpm/kmh</div>
<div class="rp n" style="left:1829px;top:677px">36.1</div>
<div class="rp b" style="left:1829px;top:704px">Inertia</div>
<div class="rp n" style="left:1829px;top:724px">F636.0+R636.0</div>
<div class="rp b" style="left:1829px;top:752px">Samples</div>
<div class="rp n" style="left:1829px;top:772px">3313</div>

<!-- bottom strips -->
<div class="abs" style="left:0;top:1079px;width:1920px;height:1px;background:#a8a8a0"></div>
<div class="abs" style="left:93px;top:1072px;width:1645px;height:3px;background:#a4a4aa"></div>
<div class="abs" style="left:93px;top:1075px;width:1645px;height:5px;border:1px solid #000;background:#fff"></div>
</body></html>
